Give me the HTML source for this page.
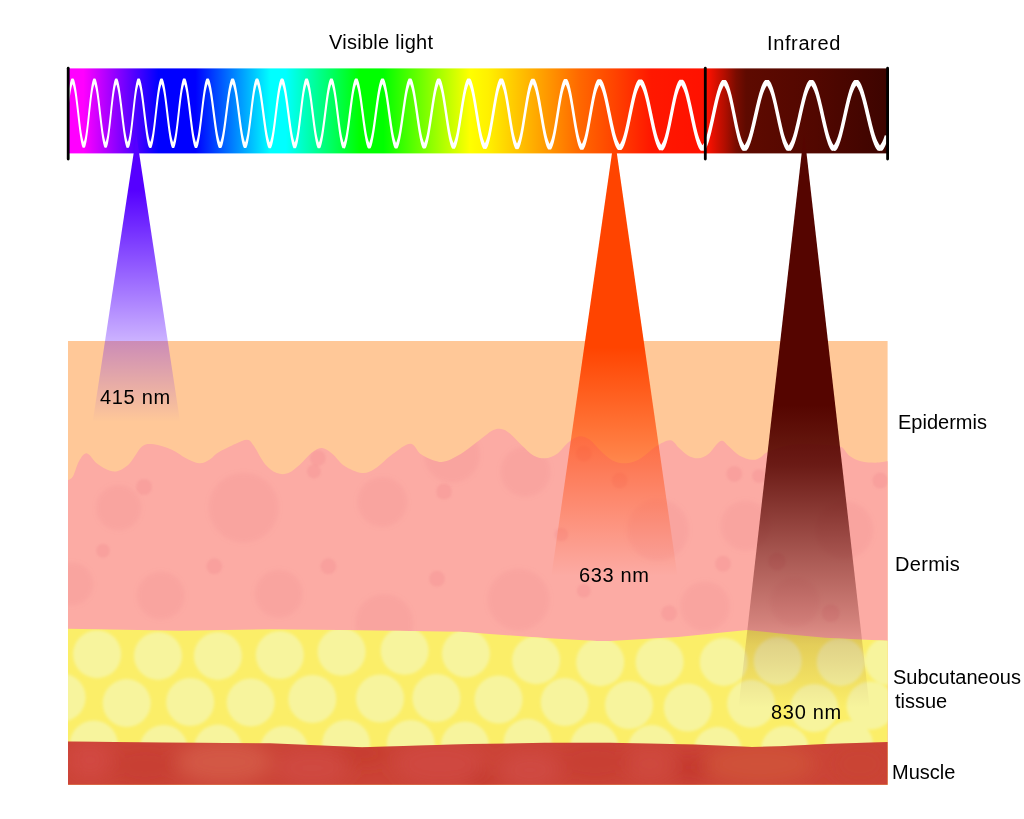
<!DOCTYPE html>
<html><head><meta charset="utf-8"><title>Light penetration</title>
<style>
html,body{margin:0;padding:0;background:#fff;}
body{width:1024px;height:819px;overflow:hidden;position:relative;font-family:"Liberation Sans",sans-serif;}
svg{position:absolute;left:0;top:0;}
.t{position:absolute;font-size:20px;line-height:24px;color:#000;white-space:nowrap;will-change:transform;}
</style></head><body>
<svg width="1024" height="819" viewBox="0 0 1024 819">
<defs>
<linearGradient id="spec" gradientUnits="userSpaceOnUse" x1="68" y1="0" x2="705" y2="0">
<stop offset="0" stop-color="#ff00ff"/>
<stop offset="0.024" stop-color="#ff00ff"/>
<stop offset="0.142" stop-color="#0000ff"/>
<stop offset="0.200" stop-color="#0000ff"/>
<stop offset="0.318" stop-color="#00ffff"/>
<stop offset="0.342" stop-color="#00ffff"/>
<stop offset="0.458" stop-color="#00ff00"/>
<stop offset="0.495" stop-color="#00ff00"/>
<stop offset="0.631" stop-color="#ffff00"/>
<stop offset="0.66" stop-color="#fff000"/>
<stop offset="0.803" stop-color="#ff6800"/>
<stop offset="0.857" stop-color="#ff4400"/>
<stop offset="0.915" stop-color="#ff1800"/>
<stop offset="1" stop-color="#ff1100"/>
</linearGradient>
<linearGradient id="ir" gradientUnits="userSpaceOnUse" x1="705" y1="0" x2="888" y2="0">
<stop offset="0" stop-color="#ff1100"/>
<stop offset="0.03" stop-color="#f01000"/>
<stop offset="0.11" stop-color="#b00e00"/>
<stop offset="0.17" stop-color="#7a0c00"/>
<stop offset="0.225" stop-color="#5e0a00"/>
<stop offset="0.6" stop-color="#520700"/>
<stop offset="1" stop-color="#3d0400"/>
</linearGradient>
<linearGradient id="gv" gradientUnits="userSpaceOnUse" x1="0" y1="135" x2="0" y2="422">
<stop offset="0" stop-color="#5500ff" stop-opacity="1"/>
<stop offset="0.19" stop-color="#5500ff" stop-opacity="1"/>
<stop offset="0.72" stop-color="#5500ff" stop-opacity="0.30"/>
<stop offset="1" stop-color="#5500ff" stop-opacity="0"/>
</linearGradient>
<linearGradient id="gr" gradientUnits="userSpaceOnUse" x1="0" y1="136" x2="0" y2="576">
<stop offset="0" stop-color="#ff4400" stop-opacity="1"/>
<stop offset="0.48" stop-color="#ff4400" stop-opacity="1"/>
<stop offset="1" stop-color="#ff4400" stop-opacity="0"/>
</linearGradient>
<linearGradient id="gi" gradientUnits="userSpaceOnUse" x1="0" y1="100" x2="0" y2="800">
<stop offset="0.0000" stop-color="#550500" stop-opacity="1"/>
<stop offset="0.4357" stop-color="#550500" stop-opacity="1"/>
<stop offset="0.5214" stop-color="#550500" stop-opacity="0.87"/>
<stop offset="0.6443" stop-color="#550500" stop-opacity="0.52"/>
<stop offset="0.7414" stop-color="#550500" stop-opacity="0.26"/>
<stop offset="0.7786" stop-color="#550500" stop-opacity="0.14"/>
<stop offset="0.8686" stop-color="#550500" stop-opacity="0"/>
</linearGradient>
<radialGradient id="rg"><stop offset="0" stop-color="#ee8288" stop-opacity="0.19"/><stop offset="0.85" stop-color="#ee8288" stop-opacity="0.16"/><stop offset="1" stop-color="#ee8288" stop-opacity="0.08"/></radialGradient>
<filter id="b1" x="-5%" y="-5%" width="110%" height="110%"><feGaussianBlur stdDeviation="1.2"/></filter>
<filter id="b4" x="-5%" y="-5%" width="110%" height="110%"><feGaussianBlur stdDeviation="1.4"/></filter>
<filter id="b2" x="-5%" y="-5%" width="110%" height="110%"><feGaussianBlur stdDeviation="2"/></filter>
<clipPath id="cm"><path d="M68.0,741.6 L162.0,742.6 L270.0,743.3 L362.0,747.2 L470.0,744.1 L545.0,742.8 L610.0,742.8 L695.0,744.5 L752.0,746.9 L780.0,746.3 L825.0,744.0 L887.6,742.0 L887.6,784.7 L68.0,784.7 Z"/></clipPath>
<filter id="b3" x="-20%" y="-50%" width="140%" height="200%"><feGaussianBlur stdDeviation="9"/></filter>
<clipPath id="cd"><path d="M68.0,480.3 C68.9,479.6 71.4,479.2 73.2,476.0 C75.0,472.8 76.7,465.1 79.0,461.3 C81.3,457.5 83.8,452.9 87.0,453.4 C90.2,453.9 93.5,461.2 98.0,464.2 C102.5,467.2 109.0,471.5 114.2,471.5 C119.4,471.5 124.3,468.3 128.9,464.2 C133.5,460.1 137.8,449.9 142.0,446.6 C146.2,443.3 148.9,443.8 153.8,444.3 C158.7,444.8 165.9,447.3 171.3,449.6 C176.7,451.9 181.3,456.0 186.0,458.3 C190.7,460.6 195.3,463.1 199.2,463.3 C203.1,463.6 206.2,461.6 209.4,459.8 C212.6,458.0 213.8,455.2 218.2,452.5 C222.6,449.8 230.9,445.8 235.8,443.7 C240.7,441.6 244.6,439.6 247.5,439.9 C250.4,440.1 250.5,441.1 253.4,445.2 C256.3,449.2 261.2,459.6 265.1,464.2 C269.0,468.8 272.9,471.5 276.8,473.0 C280.7,474.5 284.6,474.5 288.5,473.0 C292.4,471.5 296.4,467.6 300.3,464.2 C304.2,460.8 308.4,455.2 312.0,452.5 C315.6,449.8 318.8,447.9 322.2,448.1 C325.6,448.4 328.8,451.1 332.5,454.0 C336.2,456.9 339.3,462.5 344.2,465.7 C349.1,468.9 356.8,472.5 362.0,473.0 C367.2,473.5 370.1,471.8 375.2,468.6 C380.3,465.4 386.8,458.1 392.7,454.0 C398.6,449.9 405.6,443.7 410.3,443.7 C415.0,443.7 416.7,451.2 420.6,454.0 C424.5,456.8 429.7,459.2 433.8,460.4 C437.9,461.6 440.6,462.6 445.5,461.3 C450.4,460.0 457.1,456.2 463.0,452.5 C468.9,448.8 475.7,443.0 480.6,439.3 C485.5,435.6 489.0,432.2 492.4,430.5 C495.8,428.8 498.2,428.5 501.1,429.0 C504.0,429.5 506.5,430.7 509.9,433.4 C513.3,436.1 517.8,441.5 521.7,445.2 C525.6,448.9 529.5,453.2 533.4,455.4 C537.3,457.6 541.2,458.5 545.1,458.3 C549.0,458.1 552.9,456.7 556.8,454.0 C560.7,451.3 564.8,445.1 568.5,442.2 C572.2,439.3 575.4,436.9 578.8,436.4 C582.2,435.9 585.3,436.9 589.0,439.3 C592.7,441.7 596.9,447.5 600.8,451.0 C604.7,454.5 608.2,458.3 612.5,460.4 C616.8,462.4 621.6,463.6 626.4,463.3 C631.1,463.0 636.1,461.1 641.0,458.3 C645.9,455.5 650.8,449.6 655.7,446.6 C660.6,443.6 666.4,439.9 670.3,440.2 C674.2,440.4 676.2,445.6 679.1,448.1 C682.0,450.6 684.7,453.7 687.9,455.4 C691.1,457.1 694.8,458.5 698.2,458.3 C701.6,458.1 705.2,456.4 708.4,454.0 C711.6,451.6 714.9,445.9 717.2,443.7 C719.6,441.5 720.5,440.3 722.5,440.8 C724.5,441.3 726.1,444.2 728.9,446.6 C731.7,449.0 735.3,453.2 739.2,455.4 C743.1,457.6 748.8,459.6 752.4,459.8 C756.0,460.1 758.7,458.1 761.1,456.9 C763.5,455.7 763.0,454.3 767.0,452.5 C771.0,450.7 779.2,447.4 785.0,446.0 C790.8,444.6 796.2,444.2 802.0,444.0 C807.8,443.8 813.6,444.1 820.0,444.5 C826.4,444.9 835.5,444.8 840.3,446.6 C845.1,448.4 845.6,452.9 849.0,455.4 C852.4,457.8 856.4,460.1 860.8,461.3 C865.2,462.5 870.9,462.7 875.4,462.7 C879.9,462.7 885.6,461.5 887.6,461.3 L887.6,784.7 L68.0,784.7 Z"/></clipPath>
<clipPath id="cy"><path d="M68.0,628.8 L180.0,630.7 L270.0,629.2 L360.0,630.3 L460.0,631.7 L545.0,638.0 L597.0,640.9 L610.0,640.9 L678.0,637.1 L747.0,629.9 L780.0,633.5 L825.0,637.8 L887.6,640.8 L887.6,784.7 L68.0,784.7 Z"/></clipPath>
</defs>
<!-- skin -->
<rect x="68.0" y="341.0" width="819.6" height="443.70000000000005" fill="#ffc898"/>
<path d="M68.0,480.3 C68.9,479.6 71.4,479.2 73.2,476.0 C75.0,472.8 76.7,465.1 79.0,461.3 C81.3,457.5 83.8,452.9 87.0,453.4 C90.2,453.9 93.5,461.2 98.0,464.2 C102.5,467.2 109.0,471.5 114.2,471.5 C119.4,471.5 124.3,468.3 128.9,464.2 C133.5,460.1 137.8,449.9 142.0,446.6 C146.2,443.3 148.9,443.8 153.8,444.3 C158.7,444.8 165.9,447.3 171.3,449.6 C176.7,451.9 181.3,456.0 186.0,458.3 C190.7,460.6 195.3,463.1 199.2,463.3 C203.1,463.6 206.2,461.6 209.4,459.8 C212.6,458.0 213.8,455.2 218.2,452.5 C222.6,449.8 230.9,445.8 235.8,443.7 C240.7,441.6 244.6,439.6 247.5,439.9 C250.4,440.1 250.5,441.1 253.4,445.2 C256.3,449.2 261.2,459.6 265.1,464.2 C269.0,468.8 272.9,471.5 276.8,473.0 C280.7,474.5 284.6,474.5 288.5,473.0 C292.4,471.5 296.4,467.6 300.3,464.2 C304.2,460.8 308.4,455.2 312.0,452.5 C315.6,449.8 318.8,447.9 322.2,448.1 C325.6,448.4 328.8,451.1 332.5,454.0 C336.2,456.9 339.3,462.5 344.2,465.7 C349.1,468.9 356.8,472.5 362.0,473.0 C367.2,473.5 370.1,471.8 375.2,468.6 C380.3,465.4 386.8,458.1 392.7,454.0 C398.6,449.9 405.6,443.7 410.3,443.7 C415.0,443.7 416.7,451.2 420.6,454.0 C424.5,456.8 429.7,459.2 433.8,460.4 C437.9,461.6 440.6,462.6 445.5,461.3 C450.4,460.0 457.1,456.2 463.0,452.5 C468.9,448.8 475.7,443.0 480.6,439.3 C485.5,435.6 489.0,432.2 492.4,430.5 C495.8,428.8 498.2,428.5 501.1,429.0 C504.0,429.5 506.5,430.7 509.9,433.4 C513.3,436.1 517.8,441.5 521.7,445.2 C525.6,448.9 529.5,453.2 533.4,455.4 C537.3,457.6 541.2,458.5 545.1,458.3 C549.0,458.1 552.9,456.7 556.8,454.0 C560.7,451.3 564.8,445.1 568.5,442.2 C572.2,439.3 575.4,436.9 578.8,436.4 C582.2,435.9 585.3,436.9 589.0,439.3 C592.7,441.7 596.9,447.5 600.8,451.0 C604.7,454.5 608.2,458.3 612.5,460.4 C616.8,462.4 621.6,463.6 626.4,463.3 C631.1,463.0 636.1,461.1 641.0,458.3 C645.9,455.5 650.8,449.6 655.7,446.6 C660.6,443.6 666.4,439.9 670.3,440.2 C674.2,440.4 676.2,445.6 679.1,448.1 C682.0,450.6 684.7,453.7 687.9,455.4 C691.1,457.1 694.8,458.5 698.2,458.3 C701.6,458.1 705.2,456.4 708.4,454.0 C711.6,451.6 714.9,445.9 717.2,443.7 C719.6,441.5 720.5,440.3 722.5,440.8 C724.5,441.3 726.1,444.2 728.9,446.6 C731.7,449.0 735.3,453.2 739.2,455.4 C743.1,457.6 748.8,459.6 752.4,459.8 C756.0,460.1 758.7,458.1 761.1,456.9 C763.5,455.7 763.0,454.3 767.0,452.5 C771.0,450.7 779.2,447.4 785.0,446.0 C790.8,444.6 796.2,444.2 802.0,444.0 C807.8,443.8 813.6,444.1 820.0,444.5 C826.4,444.9 835.5,444.8 840.3,446.6 C845.1,448.4 845.6,452.9 849.0,455.4 C852.4,457.8 856.4,460.1 860.8,461.3 C865.2,462.5 870.9,462.7 875.4,462.7 C879.9,462.7 885.6,461.5 887.6,461.3 L887.6,784.7 L68.0,784.7 Z" fill="#fcaba4"/>
<g clip-path="url(#cd)"><g filter="url(#b2)"><circle cx="118.6" cy="507.7" r="22.7" fill="rgba(238,130,136,0.16)"/><circle cx="243.6" cy="507.7" r="35" fill="rgba(238,130,136,0.16)"/><circle cx="382.3" cy="501.9" r="25" fill="rgba(238,130,136,0.16)"/><circle cx="71.7" cy="583.9" r="21.5" fill="rgba(238,130,136,0.16)"/><circle cx="160.8" cy="595.6" r="24" fill="rgba(238,130,136,0.16)"/><circle cx="278.8" cy="593.7" r="24" fill="rgba(238,130,136,0.16)"/><circle cx="384.2" cy="623" r="29" fill="rgba(238,130,136,0.16)"/><circle cx="452" cy="455" r="28" fill="rgba(238,130,136,0.16)"/><circle cx="525.4" cy="471.7" r="25" fill="rgba(238,130,136,0.16)"/><circle cx="657.9" cy="530" r="31" fill="rgba(238,130,136,0.16)"/><circle cx="745.5" cy="525.6" r="25" fill="rgba(238,130,136,0.16)"/><circle cx="844.3" cy="530" r="29" fill="rgba(238,130,136,0.16)"/><circle cx="518.6" cy="599.7" r="31" fill="rgba(238,130,136,0.16)"/><circle cx="705" cy="606.4" r="25" fill="rgba(238,130,136,0.16)"/><circle cx="794.9" cy="602" r="25" fill="rgba(238,130,136,0.16)"/></g><g filter="url(#b1)"><circle cx="144" cy="487" r="8" fill="rgba(238,125,130,0.22)"/><circle cx="317.8" cy="458.1" r="8" fill="rgba(238,125,130,0.22)"/><circle cx="313.9" cy="471.4" r="7" fill="rgba(238,125,130,0.22)"/><circle cx="103" cy="550.7" r="7" fill="rgba(238,125,130,0.22)"/><circle cx="214.3" cy="566.3" r="8" fill="rgba(238,125,130,0.22)"/><circle cx="328.4" cy="566.3" r="8" fill="rgba(238,125,130,0.22)"/><circle cx="444" cy="491.5" r="8" fill="rgba(238,125,130,0.22)"/><circle cx="437" cy="578.8" r="8" fill="rgba(238,125,130,0.22)"/><circle cx="583.8" cy="453.7" r="8" fill="rgba(238,125,130,0.22)"/><circle cx="619.7" cy="480.6" r="8" fill="rgba(238,125,130,0.22)"/><circle cx="561.3" cy="534.6" r="7" fill="rgba(238,125,130,0.22)"/><circle cx="583.8" cy="590.7" r="7" fill="rgba(238,125,130,0.22)"/><circle cx="669.1" cy="613.2" r="8" fill="rgba(238,125,130,0.22)"/><circle cx="723" cy="563.8" r="8" fill="rgba(238,125,130,0.22)"/><circle cx="734.3" cy="473.9" r="8" fill="rgba(238,125,130,0.22)"/><circle cx="759" cy="476" r="7" fill="rgba(238,125,130,0.22)"/><circle cx="777" cy="561.5" r="9" fill="rgba(238,125,130,0.22)"/><circle cx="830.8" cy="613.2" r="9" fill="rgba(238,125,130,0.22)"/><circle cx="880.3" cy="480.6" r="8" fill="rgba(238,125,130,0.22)"/></g></g>
<path d="M68.0,628.8 L180.0,630.7 L270.0,629.2 L360.0,630.3 L460.0,631.7 L545.0,638.0 L597.0,640.9 L610.0,640.9 L678.0,637.1 L747.0,629.9 L780.0,633.5 L825.0,637.8 L887.6,640.8 L887.6,784.7 L68.0,784.7 Z" fill="#fbee68"/>
<g clip-path="url(#cy)"><g filter="url(#b4)"><circle cx="97.1" cy="654.2" r="24" fill="#f7f49d"/><circle cx="158" cy="655.9" r="24" fill="#f7f49d"/><circle cx="217.9" cy="655.9" r="24" fill="#f7f49d"/><circle cx="279.8" cy="655" r="24" fill="#f7f49d"/><circle cx="341.6" cy="651.8" r="24" fill="#f7f49d"/><circle cx="404.6" cy="650.8" r="24" fill="#f7f49d"/><circle cx="465.9" cy="653.6" r="24" fill="#f7f49d"/><circle cx="536.1" cy="660.2" r="24" fill="#f7f49d"/><circle cx="600.2" cy="662.2" r="24" fill="#f7f49d"/><circle cx="659.6" cy="661.9" r="24" fill="#f7f49d"/><circle cx="723.7" cy="661.9" r="24" fill="#f7f49d"/><circle cx="777.7" cy="661" r="24" fill="#f7f49d"/><circle cx="840.7" cy="661.9" r="24" fill="#f7f49d"/><circle cx="889" cy="661" r="24" fill="#f7f49d"/><circle cx="61.6" cy="697.5" r="24" fill="#f7f49d"/><circle cx="126.7" cy="703.1" r="24" fill="#f7f49d"/><circle cx="190.2" cy="702" r="24" fill="#f7f49d"/><circle cx="250.7" cy="702.5" r="24" fill="#f7f49d"/><circle cx="312.3" cy="699" r="24" fill="#f7f49d"/><circle cx="380" cy="698.5" r="24" fill="#f7f49d"/><circle cx="436.4" cy="698" r="24" fill="#f7f49d"/><circle cx="498.5" cy="699.5" r="24" fill="#f7f49d"/><circle cx="564.7" cy="702.1" r="24" fill="#f7f49d"/><circle cx="629" cy="705" r="24" fill="#f7f49d"/><circle cx="687.8" cy="707.5" r="24" fill="#f7f49d"/><circle cx="751.1" cy="703.8" r="24" fill="#f7f49d"/><circle cx="814.2" cy="708" r="24" fill="#f7f49d"/><circle cx="870.6" cy="705.5" r="24" fill="#f7f49d"/><circle cx="93.8" cy="744.5" r="24" fill="#f7f49d"/><circle cx="163.6" cy="749" r="24" fill="#f7f49d"/><circle cx="217.9" cy="748.6" r="24" fill="#f7f49d"/><circle cx="284" cy="750" r="24" fill="#f7f49d"/><circle cx="346.1" cy="744" r="24" fill="#f7f49d"/><circle cx="410.7" cy="744" r="24" fill="#f7f49d"/><circle cx="465" cy="745.4" r="24" fill="#f7f49d"/><circle cx="527.6" cy="742.8" r="24" fill="#f7f49d"/><circle cx="594.3" cy="746.6" r="24" fill="#f7f49d"/><circle cx="651.9" cy="749.1" r="24" fill="#f7f49d"/><circle cx="717.7" cy="750.8" r="24" fill="#f7f49d"/><circle cx="785" cy="750" r="24" fill="#f7f49d"/><circle cx="849" cy="744.8" r="24" fill="#f7f49d"/></g></g>
<path d="M68.0,741.6 L162.0,742.6 L270.0,743.3 L362.0,747.2 L470.0,744.1 L545.0,742.8 L610.0,742.8 L695.0,744.5 L752.0,746.9 L780.0,746.3 L825.0,744.0 L887.6,742.0 L887.6,784.7 L68.0,784.7 Z" fill="#cb4336"/>
<g clip-path="url(#cm)" filter="url(#b3)">
<ellipse cx="224" cy="762" rx="48" ry="22" fill="#d8654f" fill-opacity="0.6"/>
<ellipse cx="760" cy="764" rx="55" ry="22" fill="#d35c3c" fill-opacity="0.55"/>
<ellipse cx="860" cy="764" rx="30" ry="22" fill="#c9472f" fill-opacity="0.4"/>
<ellipse cx="90" cy="760" rx="22" ry="20" fill="#d54c4a" fill-opacity="0.6"/>
<ellipse cx="312" cy="768" rx="36" ry="18" fill="#d3504a" fill-opacity="0.5"/>
<ellipse cx="440" cy="764" rx="45" ry="22" fill="#d34c48" fill-opacity="0.55"/>
<ellipse cx="530" cy="770" rx="30" ry="18" fill="#d44e4a" fill-opacity="0.55"/>
<ellipse cx="650" cy="764" rx="24" ry="20" fill="#d24e44" fill-opacity="0.45"/>
<ellipse cx="145" cy="766" rx="34" ry="20" fill="#c23428" fill-opacity="0.32"/>
<ellipse cx="363" cy="753" rx="26" ry="12" fill="#c03226" fill-opacity="0.45"/>
<ellipse cx="482" cy="780" rx="14" ry="9" fill="#bf3026" fill-opacity="0.6"/>
<ellipse cx="595" cy="762" rx="36" ry="20" fill="#c23428" fill-opacity="0.32"/>
<ellipse cx="691" cy="768" rx="16" ry="14" fill="#c03227" fill-opacity="0.55"/>
</g>
<!-- spectrum -->
<rect x="68" y="68.4" width="637.5" height="85" fill="url(#spec)"/>
<rect x="705" y="68.4" width="182.8" height="85" fill="url(#ir)"/>
<!-- beams -->
<polygon points="136.4,135.3 180.1,422 92.7,422" fill="url(#gv)"/>
<polygon points="614.4,136.3 678.7,585 550.1,585" fill="url(#gr)"/>
<polygon points="804.1,132 870.2,712 738.0,712" fill="url(#gi)"/>
<path d="M68.0,95.31 L68.4,92.39 L68.8,89.67 L69.2,87.18 L69.6,84.96 L70.0,83.02 L70.4,81.38 L70.8,80.05 L71.2,79.04 L71.6,78.44 L72.0,78.48 L72.4,78.52 L72.8,78.51 L73.2,78.47 L73.6,78.63 L74.0,79.43 L74.4,80.54 L74.8,81.97 L75.2,83.69 L75.6,85.71 L76.0,87.99 L76.4,90.53 L76.8,93.30 L77.2,96.27 L77.6,99.42 L78.0,102.71 L78.4,106.11 L78.8,109.58 L79.2,113.09 L79.6,116.59 L80.0,120.06 L80.4,123.43 L80.8,126.66 L81.2,129.67 L81.6,132.40 L82.0,134.80 L82.4,136.88 L82.8,138.67 L83.2,140.24 L83.6,141.66 L84.0,141.29 L84.4,139.81 L84.8,138.15 L85.2,136.24 L85.6,133.99 L86.0,131.37 L86.4,128.40 L86.8,125.14 L87.2,121.66 L87.6,118.04 L88.0,114.33 L88.4,110.60 L88.8,106.88 L89.2,103.23 L89.6,99.70 L90.0,96.31 L90.4,93.13 L90.8,90.18 L91.2,87.49 L91.6,85.10 L92.0,83.04 L92.4,81.31 L92.8,79.94 L93.2,78.93 L93.6,78.52 L94.0,78.46 L94.4,78.40 L94.8,78.45 L95.2,78.50 L95.6,78.88 L96.0,79.84 L96.4,81.13 L96.8,82.73 L97.2,84.64 L97.6,86.82 L98.0,89.27 L98.4,91.95 L98.8,94.84 L99.2,97.90 L99.6,101.12 L100.0,104.45 L100.4,107.86 L100.8,111.33 L101.2,114.80 L101.6,118.26 L102.0,121.65 L102.4,124.92 L102.8,128.03 L103.2,130.89 L103.6,133.47 L104.0,135.72 L104.4,137.66 L104.8,139.35 L105.2,140.85 L105.6,142.20 L106.0,140.79 L106.4,139.25 L106.8,137.50 L107.2,135.45 L107.6,133.05 L108.0,130.27 L108.4,127.16 L108.8,123.79 L109.2,120.22 L109.6,116.54 L110.0,112.80 L110.4,109.05 L110.8,105.35 L111.2,101.73 L111.6,98.25 L112.0,94.94 L112.4,91.85 L112.8,89.00 L113.2,86.45 L113.6,84.20 L114.0,82.28 L114.4,80.71 L114.8,79.49 L115.2,78.63 L115.6,78.51 L116.0,78.50 L116.4,78.45 L116.8,78.40 L117.2,78.43 L117.6,79.15 L118.0,80.20 L118.4,81.55 L118.8,83.20 L119.2,85.14 L119.6,87.33 L120.0,89.76 L120.4,92.41 L120.8,95.24 L121.2,98.24 L121.6,101.38 L122.0,104.62 L122.4,107.93 L122.8,111.30 L123.2,114.67 L123.6,118.02 L124.0,121.32 L124.4,124.52 L124.8,127.56 L125.2,130.40 L125.6,132.96 L126.0,135.23 L126.4,137.20 L126.8,138.91 L127.2,140.43 L127.6,141.81 L128.0,141.42 L128.4,139.97 L128.8,138.35 L129.2,136.49 L129.6,134.30 L130.0,131.75 L130.4,128.87 L130.8,125.68 L131.2,122.28 L131.6,118.72 L132.0,115.08 L132.4,111.39 L132.8,107.72 L133.2,104.11 L133.6,100.59 L134.0,97.21 L134.4,94.02 L134.8,91.05 L135.2,88.32 L135.6,85.88 L136.0,83.74 L136.4,81.93 L136.8,80.45 L137.2,79.31 L137.6,78.52 L138.0,78.47 L138.4,78.42 L138.8,78.42 L139.2,78.46 L139.6,78.49 L140.0,79.23 L140.4,80.29 L140.8,81.64 L141.2,83.30 L141.6,85.22 L142.0,87.40 L142.4,89.82 L142.8,92.44 L143.2,95.26 L143.6,98.23 L144.0,101.34 L144.4,104.55 L144.8,107.84 L145.2,111.17 L145.6,114.51 L146.0,117.83 L146.4,121.10 L146.8,124.27 L147.2,127.29 L147.6,130.12 L148.0,132.68 L148.4,134.96 L148.8,136.94 L149.2,138.66 L149.6,140.18 L150.0,141.55 L150.4,141.85 L150.8,140.49 L151.2,138.98 L151.6,137.26 L152.0,135.27 L152.4,132.96 L152.8,130.32 L153.2,127.39 L153.6,124.23 L154.0,120.89 L154.4,117.44 L154.8,113.93 L155.2,110.40 L155.6,106.89 L156.0,103.44 L156.4,100.09 L156.8,96.87 L157.2,93.82 L157.6,90.97 L158.0,88.35 L158.4,85.99 L158.8,83.90 L159.2,82.12 L159.6,80.64 L160.0,79.48 L160.4,78.65 L160.8,78.46 L161.2,78.50 L161.6,78.52 L162.0,78.49 L162.4,78.46 L162.8,78.99 L163.2,79.95 L163.6,81.22 L164.0,82.78 L164.4,84.62 L164.8,86.72 L165.2,89.08 L165.6,91.65 L166.0,94.43 L166.4,97.38 L166.8,100.47 L167.2,103.68 L167.6,106.98 L168.0,110.33 L168.4,113.71 L168.8,117.08 L169.2,120.40 L169.6,123.64 L170.0,126.73 L170.4,129.63 L170.8,132.28 L171.2,134.63 L171.6,136.69 L172.0,138.46 L172.4,140.02 L172.8,141.43 L173.2,142.06 L173.6,140.70 L174.0,139.19 L174.4,137.48 L174.8,135.50 L175.2,133.18 L175.6,130.54 L176.0,127.58 L176.4,124.39 L176.8,121.01 L177.2,117.51 L177.6,113.96 L178.0,110.38 L178.4,106.83 L178.8,103.33 L179.2,99.95 L179.6,96.70 L180.0,93.63 L180.4,90.76 L180.8,88.14 L181.2,85.78 L181.6,83.71 L182.0,81.94 L182.4,80.49 L182.8,79.37 L183.2,78.57 L183.6,78.53 L184.0,78.49 L184.4,78.45 L184.8,78.42 L185.2,78.40 L185.6,79.09 L186.0,80.08 L186.4,81.37 L186.8,82.95 L187.2,84.81 L187.6,86.93 L188.0,89.29 L188.4,91.86 L188.8,94.62 L189.2,97.56 L189.6,100.63 L190.0,103.81 L190.4,107.07 L190.8,110.39 L191.2,113.72 L191.6,117.04 L192.0,120.32 L192.4,123.51 L192.8,126.56 L193.2,129.43 L193.6,132.06 L194.0,134.40 L194.4,136.45 L194.8,138.23 L195.2,139.79 L195.6,141.19 L196.0,142.46 L196.4,141.16 L196.8,139.75 L197.2,138.16 L197.6,136.34 L198.0,134.22 L198.4,131.79 L198.8,129.06 L199.2,126.07 L199.6,122.89 L200.0,119.57 L200.4,116.17 L200.8,112.73 L201.2,109.29 L201.6,105.89 L202.0,102.55 L202.4,99.32 L202.8,96.23 L203.2,93.31 L203.6,90.59 L204.0,88.09 L204.4,85.83 L204.8,83.84 L205.2,82.12 L205.6,80.70 L206.0,79.57 L206.4,78.74 L206.8,78.43 L207.2,78.41 L207.6,78.40 L208.0,78.41 L208.4,78.41 L208.8,78.70 L209.2,79.48 L209.6,80.54 L210.0,81.87 L210.4,83.44 L210.8,85.26 L211.2,87.31 L211.6,89.56 L212.0,92.00 L212.4,94.61 L212.8,97.37 L213.2,100.25 L213.6,103.23 L214.0,106.28 L214.4,109.39 L214.8,112.51 L215.2,115.64 L215.6,118.74 L216.0,121.77 L216.4,124.72 L216.8,127.53 L217.2,130.16 L217.6,132.56 L218.0,134.72 L218.4,136.62 L218.8,138.28 L219.2,139.74 L219.6,141.06 L220.0,142.27 L220.4,141.67 L220.8,140.40 L221.2,139.01 L221.6,137.44 L222.0,135.65 L222.4,133.60 L222.8,131.28 L223.2,128.72 L223.6,125.95 L224.0,123.03 L224.4,119.99 L224.8,116.87 L225.2,113.72 L225.6,110.55 L226.0,107.41 L226.4,104.31 L226.8,101.28 L227.2,98.34 L227.6,95.53 L228.0,92.86 L228.4,90.36 L228.8,88.05 L229.2,85.94 L229.6,84.06 L230.0,82.41 L230.4,81.01 L230.8,79.87 L231.2,78.99 L231.6,78.41 L232.0,78.41 L232.4,78.40 L232.8,78.40 L233.2,78.41 L233.6,78.42 L234.0,78.99 L234.4,79.86 L234.8,80.99 L235.2,82.37 L235.6,84.00 L236.0,85.87 L236.4,87.95 L236.8,90.23 L237.2,92.70 L237.6,95.34 L238.0,98.12 L238.4,101.03 L238.8,104.04 L239.2,107.12 L239.6,110.25 L240.0,113.40 L240.4,116.55 L240.8,119.67 L241.2,122.72 L241.6,125.67 L242.0,128.47 L242.4,131.07 L242.8,133.44 L243.2,135.54 L243.6,137.37 L244.0,138.98 L244.4,140.41 L244.8,141.71 L245.2,142.30 L245.6,141.03 L246.0,139.64 L246.4,138.08 L246.8,136.29 L247.2,134.22 L247.6,131.85 L248.0,129.20 L248.4,126.30 L248.8,123.20 L249.2,119.98 L249.6,116.66 L250.0,113.30 L250.4,109.93 L250.8,106.59 L251.2,103.30 L251.6,100.11 L252.0,97.04 L252.4,94.13 L252.8,91.40 L253.2,88.87 L253.6,86.57 L254.0,84.52 L254.4,82.74 L254.8,81.23 L255.2,80.00 L255.6,79.06 L256.0,78.42 L256.4,78.41 L256.8,78.40 L257.2,78.40 L257.6,78.40 L258.0,78.41 L258.4,79.00 L258.8,79.88 L259.2,81.01 L259.6,82.40 L260.0,84.02 L260.4,85.86 L260.8,87.92 L261.2,90.16 L261.6,92.59 L262.0,95.17 L262.4,97.88 L262.8,100.71 L263.2,103.63 L263.6,106.63 L264.0,109.67 L264.4,112.73 L264.8,115.80 L265.2,118.83 L265.6,121.82 L266.0,124.72 L266.4,127.49 L266.8,130.10 L267.2,132.49 L267.6,134.65 L268.0,136.56 L268.4,138.23 L268.8,139.70 L269.2,141.03 L269.6,142.26 L270.0,141.93 L270.4,140.66 L270.8,139.27 L271.2,137.69 L271.6,135.89 L272.0,133.82 L272.4,131.46 L272.8,128.85 L273.2,126.01 L273.6,123.00 L274.0,119.87 L274.4,116.66 L274.8,113.40 L275.2,110.14 L275.6,106.90 L276.0,103.72 L276.4,100.61 L276.8,97.61 L277.2,94.76 L277.6,92.06 L278.0,89.55 L278.4,87.25 L278.8,85.18 L279.2,83.35 L279.6,81.78 L280.0,80.47 L280.4,79.43 L280.8,78.67 L281.2,78.41 L281.6,78.40 L282.0,78.40 L282.4,78.41 L282.8,78.42 L283.2,78.64 L283.6,79.37 L284.0,80.35 L284.4,81.58 L284.8,83.06 L285.2,84.76 L285.6,86.68 L286.0,88.80 L286.4,91.11 L286.8,93.58 L287.2,96.21 L287.6,98.96 L288.0,101.83 L288.4,104.78 L288.8,107.79 L289.2,110.85 L289.6,113.92 L290.0,116.99 L290.4,120.03 L290.8,123.00 L291.2,125.88 L291.6,128.61 L292.0,131.16 L292.4,133.48 L292.8,135.56 L293.2,137.38 L293.6,138.98 L294.0,140.40 L294.4,141.70 L294.8,142.57 L295.2,141.32 L295.6,139.96 L296.0,138.43 L296.4,136.69 L296.8,134.66 L297.2,132.34 L297.6,129.73 L298.0,126.87 L298.4,123.80 L298.8,120.59 L299.2,117.28 L299.6,113.91 L300.0,110.53 L300.4,107.16 L300.8,103.84 L301.2,100.62 L301.6,97.50 L302.0,94.54 L302.4,91.76 L302.8,89.18 L303.2,86.83 L303.6,84.73 L304.0,82.89 L304.4,81.34 L304.8,80.07 L305.2,79.10 L305.6,78.43 L306.0,78.42 L306.4,78.40 L306.8,78.40 L307.2,78.41 L307.6,78.42 L308.0,79.07 L308.4,80.00 L308.8,81.21 L309.2,82.69 L309.6,84.43 L310.0,86.41 L310.4,88.62 L310.8,91.04 L311.2,93.64 L311.6,96.41 L312.0,99.31 L312.4,102.34 L312.8,105.45 L313.2,108.62 L313.6,111.83 L314.0,115.04 L314.4,118.22 L314.8,121.35 L315.2,124.39 L315.6,127.29 L316.0,130.00 L316.4,132.49 L316.8,134.72 L317.2,136.67 L317.6,138.38 L318.0,139.88 L318.4,141.22 L318.8,142.45 L319.2,141.97 L319.6,140.70 L320.0,139.30 L320.4,137.73 L320.8,135.94 L321.2,133.89 L321.6,131.57 L322.0,129.01 L322.4,126.24 L322.8,123.31 L323.2,120.26 L323.6,117.14 L324.0,113.98 L324.4,110.80 L324.8,107.64 L325.2,104.53 L325.6,101.48 L326.0,98.53 L326.4,95.70 L326.8,93.02 L327.2,90.50 L327.6,88.17 L328.0,86.04 L328.4,84.14 L328.8,82.47 L329.2,81.05 L329.6,79.90 L330.0,79.01 L330.4,78.41 L330.8,78.41 L331.2,78.40 L331.6,78.40 L332.0,78.40 L332.4,78.41 L332.8,79.02 L333.2,79.92 L333.6,81.08 L334.0,82.52 L334.4,84.21 L334.8,86.14 L335.2,88.30 L335.6,90.67 L336.0,93.23 L336.4,95.97 L336.8,98.85 L337.2,101.86 L337.6,104.96 L338.0,108.13 L338.4,111.34 L338.8,114.57 L339.2,117.78 L339.6,120.94 L340.0,124.01 L340.4,126.95 L340.8,129.72 L341.2,132.26 L341.6,134.54 L342.0,136.54 L342.4,138.29 L342.8,139.82 L343.2,141.19 L343.6,142.44 L344.0,142.08 L344.4,140.79 L344.8,139.39 L345.2,137.80 L345.6,135.99 L346.0,133.92 L346.4,131.58 L346.8,128.99 L347.2,126.19 L347.6,123.23 L348.0,120.16 L348.4,117.02 L348.8,113.84 L349.2,110.65 L349.6,107.48 L350.0,104.37 L350.4,101.32 L350.8,98.38 L351.2,95.57 L351.6,92.90 L352.0,90.40 L352.4,88.10 L352.8,86.00 L353.2,84.12 L353.6,82.47 L354.0,81.08 L354.4,79.93 L354.8,79.05 L355.2,78.43 L355.6,78.44 L356.0,78.45 L356.4,78.47 L356.8,78.49 L357.2,78.50 L357.6,78.86 L358.0,79.66 L358.4,80.72 L358.8,82.02 L359.2,83.56 L359.6,85.33 L360.0,87.32 L360.4,89.50 L360.8,91.86 L361.2,94.39 L361.6,97.06 L362.0,99.86 L362.4,102.75 L362.8,105.73 L363.2,108.75 L363.6,111.81 L364.0,114.87 L364.4,117.91 L364.8,120.91 L365.2,123.82 L365.6,126.62 L366.0,129.27 L366.4,131.72 L366.8,133.94 L367.2,135.92 L367.6,137.66 L368.0,139.18 L368.4,140.54 L368.8,141.78 L369.2,142.92 L369.6,141.84 L370.0,140.62 L370.4,139.28 L370.8,137.77 L371.2,136.06 L371.6,134.12 L372.0,131.94 L372.4,129.54 L372.8,126.95 L373.2,124.21 L373.6,121.36 L374.0,118.43 L374.4,115.45 L374.8,112.45 L375.2,109.46 L375.6,106.50 L376.0,103.59 L376.4,100.74 L376.8,97.99 L377.2,95.36 L377.6,92.85 L378.0,90.50 L378.4,88.31 L378.8,86.30 L379.2,84.49 L379.6,82.88 L380.0,81.49 L380.4,80.33 L380.8,79.39 L381.2,78.69 L381.6,78.45 L382.0,78.48 L382.4,78.52 L382.8,78.50 L383.2,78.46 L383.6,78.42 L384.0,79.00 L384.4,79.82 L384.8,80.86 L385.2,82.12 L385.6,83.60 L386.0,85.28 L386.4,87.16 L386.8,89.22 L387.2,91.45 L387.6,93.83 L388.0,96.35 L388.4,98.98 L388.8,101.72 L389.2,104.53 L389.6,107.40 L390.0,110.30 L390.4,113.23 L390.8,116.14 L391.2,119.03 L391.6,121.87 L392.0,124.63 L392.4,127.27 L392.8,129.77 L393.2,132.08 L393.6,134.18 L394.0,136.06 L394.4,137.72 L394.8,139.18 L395.2,140.49 L395.6,141.68 L396.0,142.78 L396.4,142.22 L396.8,141.07 L397.2,139.83 L397.6,138.46 L398.0,136.91 L398.4,135.16 L398.8,133.19 L399.2,131.00 L399.6,128.63 L400.0,126.09 L400.4,123.43 L400.8,120.68 L401.2,117.86 L401.6,115.01 L402.0,112.14 L402.4,109.28 L402.8,106.45 L403.2,103.66 L403.6,100.94 L404.0,98.30 L404.4,95.76 L404.8,93.34 L405.2,91.05 L405.6,88.92 L406.0,86.94 L406.4,85.14 L406.8,83.53 L407.2,82.11 L407.6,80.89 L408.0,79.88 L408.4,79.08 L408.8,78.49 L409.2,78.51 L409.6,78.45 L410.0,78.40 L410.4,78.45 L410.8,78.51 L411.2,78.49 L411.6,79.07 L412.0,79.86 L412.4,80.86 L412.8,82.06 L413.2,83.46 L413.6,85.05 L414.0,86.82 L414.4,88.76 L414.8,90.86 L415.2,93.10 L415.6,95.46 L416.0,97.95 L416.4,100.52 L416.8,103.18 L417.2,105.90 L417.6,108.67 L418.0,111.46 L418.4,114.25 L418.8,117.04 L419.2,119.80 L419.6,122.50 L420.0,125.12 L420.4,127.63 L420.8,130.01 L421.2,132.21 L421.6,134.22 L422.0,136.03 L422.4,137.63 L422.8,139.05 L423.2,140.32 L423.6,141.48 L424.0,142.56 L424.4,142.67 L424.8,141.60 L425.2,140.46 L425.6,139.21 L426.0,137.81 L426.4,136.24 L426.8,134.48 L427.2,132.51 L427.6,130.36 L428.0,128.03 L428.4,125.57 L428.8,123.00 L429.2,120.35 L429.6,117.65 L430.0,114.91 L430.4,112.17 L430.8,109.43 L431.2,106.71 L431.6,104.03 L432.0,101.42 L432.4,98.87 L432.8,96.41 L433.2,94.06 L433.6,91.83 L434.0,89.73 L434.4,87.77 L434.8,85.97 L435.2,84.34 L435.6,82.87 L436.0,81.59 L436.4,80.50 L436.8,79.60 L437.2,78.90 L437.6,78.41 L438.0,78.46 L438.4,78.53 L438.8,78.45 L439.2,78.42 L439.6,78.49 L440.0,78.49 L440.4,79.05 L440.8,79.80 L441.2,80.74 L441.6,81.87 L442.0,83.19 L442.4,84.68 L442.8,86.34 L443.2,88.16 L443.6,90.13 L444.0,92.24 L444.4,94.47 L444.8,96.82 L445.2,99.26 L445.6,101.79 L446.0,104.38 L446.4,107.02 L446.8,109.70 L447.2,112.40 L447.6,115.10 L448.0,117.78 L448.4,120.43 L448.8,123.02 L449.2,125.54 L449.6,127.95 L450.0,130.23 L450.4,132.35 L450.8,134.29 L451.2,136.03 L451.6,137.59 L452.0,138.98 L452.4,140.22 L452.8,141.35 L453.2,142.40 L453.6,143.03 L454.0,142.02 L454.4,140.95 L454.8,139.79 L455.2,138.51 L455.6,137.07 L456.0,135.47 L456.4,133.68 L456.8,131.70 L457.2,129.56 L457.6,127.28 L458.0,124.88 L458.4,122.39 L458.8,119.83 L459.2,117.23 L459.6,114.61 L460.0,111.98 L460.4,109.36 L460.8,106.76 L461.2,104.20 L461.6,101.69 L462.0,99.25 L462.4,96.89 L462.8,94.62 L463.2,92.46 L463.6,90.42 L464.0,88.51 L464.4,86.74 L464.8,85.11 L465.2,83.64 L465.6,82.32 L466.0,81.18 L466.4,80.20 L466.8,79.40 L467.2,78.78 L467.6,78.47 L468.0,78.42 L468.4,78.51 L468.8,78.45 L469.2,78.44 L469.6,78.51 L470.0,78.42 L470.4,78.90 L470.8,79.54 L471.2,80.36 L471.6,81.34 L472.0,82.48 L472.4,83.78 L472.8,85.22 L473.2,86.80 L473.6,88.51 L474.0,90.34 L474.4,92.29 L474.8,94.34 L475.2,96.48 L475.6,98.71 L476.0,101.00 L476.4,103.36 L476.8,105.76 L477.2,108.19 L477.6,110.65 L478.0,113.11 L478.4,115.57 L478.8,118.01 L479.2,120.43 L479.6,122.80 L480.0,125.10 L480.4,127.33 L480.8,129.45 L481.2,131.45 L481.6,133.30 L482.0,135.01 L482.4,136.55 L482.8,137.95 L483.2,139.20 L483.6,140.33 L484.0,141.37 L484.4,142.34 L484.8,143.25 L485.2,142.78 L485.6,141.84 L486.0,140.85 L486.4,139.77 L486.8,138.58 L487.2,137.26 L487.6,135.80 L488.0,134.18 L488.4,132.41 L488.8,130.49 L489.2,128.44 L489.6,126.28 L490.0,124.04 L490.4,121.72 L490.8,119.35 L491.2,116.95 L491.6,114.52 L492.0,112.09 L492.4,109.65 L492.8,107.24 L493.2,104.85 L493.6,102.50 L494.0,100.20 L494.4,97.96 L494.8,95.79 L495.2,93.71 L495.6,91.72 L496.0,89.84 L496.4,88.07 L496.8,86.42 L497.2,84.90 L497.6,83.52 L498.0,82.27 L498.4,81.18 L498.8,80.25 L499.2,79.47 L499.6,78.85 L500.0,78.42 L500.4,78.50 L500.8,78.46 L501.2,78.46 L501.6,78.51 L502.0,78.41 L502.4,78.51 L502.8,78.74 L503.2,79.34 L503.6,80.10 L504.0,81.03 L504.4,82.12 L504.8,83.37 L505.2,84.77 L505.6,86.32 L506.0,88.01 L506.4,89.83 L506.8,91.78 L507.2,93.85 L507.6,96.01 L508.0,98.27 L508.4,100.62 L508.8,103.03 L509.2,105.50 L509.6,108.01 L510.0,110.55 L510.4,113.10 L510.8,115.66 L511.2,118.20 L511.6,120.72 L512.0,123.18 L512.4,125.59 L512.8,127.90 L513.2,130.10 L513.6,132.16 L514.0,134.06 L514.4,135.80 L514.8,137.36 L515.2,138.76 L515.6,140.02 L516.0,141.16 L516.4,142.21 L516.8,143.20 L517.2,143.27 L517.6,142.30 L518.0,141.26 L518.4,140.14 L518.8,138.89 L519.2,137.51 L519.6,135.97 L520.0,134.26 L520.4,132.38 L520.8,130.34 L521.2,128.16 L521.6,125.88 L522.0,123.50 L522.4,121.05 L522.8,118.56 L523.2,116.04 L523.6,113.51 L524.0,110.98 L524.4,108.46 L524.8,105.97 L525.2,103.52 L525.6,101.13 L526.0,98.80 L526.4,96.55 L526.8,94.39 L527.2,92.34 L527.6,90.39 L528.0,88.57 L528.4,86.87 L528.8,85.31 L529.2,83.90 L529.6,82.63 L530.0,81.52 L530.4,80.56 L530.8,79.77 L531.2,79.14 L531.6,78.67 L532.0,78.76 L532.4,78.65 L532.8,78.74 L533.2,78.68 L533.6,78.71 L534.0,78.71 L534.4,78.86 L534.8,79.40 L535.2,80.09 L535.6,80.93 L536.0,81.92 L536.4,83.05 L536.8,84.32 L537.2,85.73 L537.6,87.26 L538.0,88.91 L538.4,90.67 L538.8,92.53 L539.2,94.49 L539.6,96.54 L540.0,98.66 L540.4,100.85 L540.8,103.10 L541.2,105.40 L541.6,107.73 L542.0,110.09 L542.4,112.47 L542.8,114.85 L543.2,117.22 L543.6,119.58 L544.0,121.91 L544.4,124.19 L544.8,126.41 L545.2,128.55 L545.6,130.59 L546.0,132.52 L546.4,134.30 L546.8,135.94 L547.2,137.43 L547.6,138.78 L548.0,140.00 L548.4,141.11 L548.8,142.13 L549.2,143.08 L549.6,143.98 L550.0,143.08 L550.4,142.12 L550.8,141.08 L551.2,139.95 L551.6,138.70 L552.0,137.31 L552.4,135.75 L552.8,134.03 L553.2,132.15 L553.6,130.12 L554.0,127.96 L554.4,125.69 L554.8,123.33 L555.2,120.91 L555.6,118.44 L556.0,115.94 L556.4,113.43 L556.8,110.91 L557.2,108.40 L557.6,105.93 L558.0,103.49 L558.4,101.10 L558.8,98.78 L559.2,96.54 L559.6,94.39 L560.0,92.33 L560.4,90.39 L560.8,88.57 L561.2,86.88 L561.6,85.33 L562.0,83.93 L562.4,82.67 L562.8,81.58 L563.2,80.64 L563.6,79.87 L564.0,79.27 L564.4,78.93 L564.8,78.92 L565.2,78.98 L565.6,78.88 L566.0,78.98 L566.4,78.92 L566.8,78.93 L567.2,79.27 L567.6,79.88 L568.0,80.65 L568.4,81.59 L568.8,82.69 L569.2,83.94 L569.6,85.34 L570.0,86.89 L570.4,88.58 L570.8,90.39 L571.2,92.32 L571.6,94.36 L572.0,96.50 L572.4,98.73 L572.8,101.03 L573.2,103.40 L573.6,105.81 L574.0,108.27 L574.4,110.75 L574.8,113.24 L575.2,115.73 L575.6,118.21 L576.0,120.65 L576.4,123.05 L576.8,125.39 L577.2,127.65 L577.6,129.80 L578.0,131.83 L578.4,133.72 L578.8,135.46 L579.2,137.03 L579.6,138.45 L580.0,139.72 L580.4,140.87 L580.8,141.92 L581.2,142.89 L581.6,143.80 L582.0,143.85 L582.4,142.95 L582.8,142.00 L583.2,140.98 L583.6,139.87 L584.0,138.64 L584.4,137.29 L584.8,135.79 L585.2,134.14 L585.6,132.36 L586.0,130.45 L586.4,128.43 L586.8,126.32 L587.2,124.14 L587.6,121.90 L588.0,119.63 L588.4,117.33 L588.8,115.02 L589.2,112.70 L589.6,110.40 L590.0,108.12 L590.4,105.87 L590.8,103.66 L591.2,101.50 L591.6,99.39 L592.0,97.36 L592.4,95.40 L592.8,93.52 L593.2,91.74 L593.6,90.05 L594.0,88.46 L594.4,86.98 L594.8,85.62 L595.2,84.37 L595.6,83.24 L596.0,82.24 L596.4,81.36 L596.8,80.60 L597.2,79.97 L597.6,79.47 L598.0,79.15 L598.4,79.24 L598.8,79.14 L599.2,79.20 L599.6,79.20 L600.0,79.13 L600.4,79.22 L600.8,79.19 L601.2,79.42 L601.6,79.89 L602.0,80.47 L602.4,81.15 L602.8,81.95 L603.2,82.84 L603.6,83.84 L604.0,84.93 L604.4,86.11 L604.8,87.38 L605.2,88.73 L605.6,90.15 L606.0,91.65 L606.4,93.22 L606.8,94.85 L607.2,96.54 L607.6,98.28 L608.0,100.06 L608.4,101.88 L608.8,103.74 L609.2,105.63 L609.6,107.54 L610.0,109.46 L610.4,111.40 L610.8,113.34 L611.2,115.29 L611.6,117.22 L612.0,119.15 L612.4,121.05 L612.8,122.93 L613.2,124.78 L613.6,126.58 L614.0,128.33 L614.4,130.02 L614.8,131.64 L615.2,133.18 L615.6,134.63 L616.0,135.98 L616.4,137.23 L616.8,138.39 L617.2,139.45 L617.6,140.43 L618.0,141.34 L618.4,142.18 L618.8,142.98 L619.2,143.73 L619.6,144.45 L620.0,144.11 L620.4,143.38 L620.8,142.61 L621.2,141.80 L621.6,140.92 L622.0,139.97 L622.4,138.95 L622.8,137.83 L623.2,136.61 L623.6,135.29 L624.0,133.87 L624.4,132.36 L624.8,130.76 L625.2,129.08 L625.6,127.33 L626.0,125.53 L626.4,123.68 L626.8,121.80 L627.2,119.89 L627.6,117.96 L628.0,116.02 L628.4,114.07 L628.8,112.12 L629.2,110.18 L629.6,108.25 L630.0,106.34 L630.4,104.46 L630.8,102.60 L631.2,100.79 L631.6,99.01 L632.0,97.28 L632.4,95.61 L632.8,93.99 L633.2,92.44 L633.6,90.96 L634.0,89.54 L634.4,88.21 L634.8,86.95 L635.2,85.77 L635.6,84.68 L636.0,83.69 L636.4,82.78 L636.8,81.97 L637.2,81.25 L637.6,80.63 L638.0,80.11 L638.4,79.69 L638.8,79.48 L639.2,79.54 L639.6,79.47 L640.0,79.43 L640.4,79.50 L640.8,79.52 L641.2,79.46 L641.6,79.44 L642.0,79.51 L642.4,79.88 L642.8,80.35 L643.2,80.92 L643.6,81.58 L644.0,82.34 L644.4,83.19 L644.8,84.13 L645.2,85.16 L645.6,86.27 L646.0,87.46 L646.4,88.73 L646.8,90.08 L647.2,91.50 L647.6,92.99 L648.0,94.54 L648.4,96.14 L648.8,97.80 L649.2,99.52 L649.6,101.27 L650.0,103.06 L650.4,104.89 L650.8,106.75 L651.2,108.63 L651.6,110.53 L652.0,112.44 L652.4,114.35 L652.8,116.27 L653.2,118.18 L653.6,120.08 L654.0,121.96 L654.4,123.81 L654.8,125.64 L655.2,127.41 L655.6,129.14 L656.0,130.81 L656.4,132.40 L656.8,133.91 L657.2,135.33 L657.6,136.65 L658.0,137.88 L658.4,139.01 L658.8,140.05 L659.2,141.01 L659.6,141.90 L660.0,142.73 L660.4,143.51 L660.8,144.26 L661.2,144.97 L661.6,144.26 L662.0,143.52 L662.4,142.73 L662.8,141.89 L663.2,140.98 L663.6,140.00 L664.0,138.93 L664.4,137.76 L664.8,136.48 L665.2,135.10 L665.6,133.61 L666.0,132.02 L666.4,130.34 L666.8,128.59 L667.2,126.76 L667.6,124.88 L668.0,122.95 L668.4,120.99 L668.8,119.00 L669.2,117.00 L669.6,114.98 L670.0,112.97 L670.4,110.95 L670.8,108.95 L671.2,106.97 L671.6,105.01 L672.0,103.09 L672.4,101.20 L672.8,99.36 L673.2,97.57 L673.6,95.84 L674.0,94.17 L674.4,92.57 L674.8,91.04 L675.2,89.60 L675.6,88.23 L676.0,86.96 L676.4,85.77 L676.8,84.68 L677.2,83.68 L677.6,82.78 L678.0,81.99 L678.4,81.29 L678.8,80.70 L679.2,80.21 L679.6,79.83 L680.0,79.76 L680.4,79.75 L680.8,79.82 L681.2,79.80 L681.6,79.73 L682.0,79.77 L682.4,79.84 L682.8,79.78 L683.2,79.99 L683.6,80.41 L684.0,80.93 L684.4,81.55 L684.8,82.27 L685.2,83.07 L685.6,83.97 L686.0,84.95 L686.4,86.03 L686.8,87.18 L687.2,88.41 L687.6,89.72 L688.0,91.10 L688.4,92.54 L688.8,94.05 L689.2,95.62 L689.6,97.25 L690.0,98.92 L690.4,100.64 L690.8,102.40 L691.2,104.19 L691.6,106.01 L692.0,107.86 L692.4,109.72 L692.8,111.60 L693.2,113.49 L693.6,115.37 L694.0,117.26 L694.4,119.13 L694.8,120.99 L695.2,122.83 L695.6,124.64 L696.0,126.41 L696.4,128.14 L696.8,129.82 L697.2,131.43 L697.6,132.97 L698.0,134.43 L698.4,135.80 L698.8,137.08 L699.2,138.27 L699.6,139.36 L700.0,140.37 L700.4,141.30 L700.8,142.16 L701.2,142.97 L701.6,143.73 L702.0,144.45 L702.4,145.14 L702.8,144.84 L703.2,144.14 L703.6,143.41 L704.0,142.64 L704.4,141.82 L704.8,140.93 L705.2,139.98 L705.6,138.94 L706.0,137.82 L706.4,136.61 L706.8,135.30 L707.2,133.91 L707.6,132.44 L708.0,130.89 L708.4,129.27 L708.8,127.60 L709.2,125.88 L709.6,124.12 L710.0,122.33 L710.4,120.51 L710.8,118.68 L711.2,116.83 L711.6,114.98 L712.0,113.13 L712.4,111.28 L712.8,109.44 L713.2,107.62 L713.6,105.81 L714.0,104.03 L714.4,102.28 L714.8,100.57 L715.2,98.89 L715.6,97.26 L716.0,95.68 L716.4,94.15 L716.8,92.68 L717.2,91.26 L717.6,89.92 L718.0,88.64 L718.4,87.44 L718.8,86.31 L719.2,85.26 L719.6,84.29 L720.0,83.40 L720.4,82.61 L720.8,81.90 L721.2,81.28 L721.6,80.76 L722.0,80.33 L722.4,80.01 L722.8,80.06 L723.2,80.12 L723.6,80.06 L724.0,80.00 L724.4,80.06 L724.8,80.12 L725.2,80.05 L725.6,80.02 L726.0,80.37 L726.4,80.82 L726.8,81.37 L727.2,82.02 L727.6,82.78 L728.0,83.63 L728.4,84.58 L728.8,85.63 L729.2,86.76 L729.6,87.99 L730.0,89.31 L730.4,90.71 L730.8,92.18 L731.2,93.74 L731.6,95.36 L732.0,97.04 L732.4,98.79 L732.8,100.58 L733.2,102.43 L733.6,104.31 L734.0,106.23 L734.4,108.18 L734.8,110.14 L735.2,112.13 L735.6,114.11 L736.0,116.10 L736.4,118.09 L736.8,120.06 L737.2,122.00 L737.6,123.92 L738.0,125.80 L738.4,127.63 L738.8,129.41 L739.2,131.11 L739.6,132.73 L740.0,134.27 L740.4,135.71 L740.8,137.05 L741.2,138.28 L741.6,139.41 L742.0,140.45 L742.4,141.40 L742.8,142.28 L743.2,143.10 L743.6,143.86 L744.0,144.59 L744.4,145.28 L744.8,144.99 L745.2,144.30 L745.6,143.57 L746.0,142.81 L746.4,142.00 L746.8,141.14 L747.2,140.21 L747.6,139.20 L748.0,138.12 L748.4,136.95 L748.8,135.70 L749.2,134.36 L749.6,132.95 L750.0,131.47 L750.4,129.93 L750.8,128.34 L751.2,126.70 L751.6,125.02 L752.0,123.31 L752.4,121.58 L752.8,119.84 L753.2,118.08 L753.6,116.31 L754.0,114.55 L754.4,112.78 L754.8,111.02 L755.2,109.28 L755.6,107.54 L756.0,105.83 L756.4,104.14 L756.8,102.48 L757.2,100.85 L757.6,99.26 L758.0,97.71 L758.4,96.19 L758.8,94.73 L759.2,93.32 L759.6,91.95 L760.0,90.65 L760.4,89.41 L760.8,88.23 L761.2,87.11 L761.6,86.06 L762.0,85.09 L762.4,84.19 L762.8,83.36 L763.2,82.61 L763.6,81.94 L764.0,81.35 L764.4,80.84 L764.8,80.42 L765.2,80.08 L765.6,80.03 L766.0,80.01 L766.4,80.05 L766.8,80.10 L767.2,80.10 L767.6,80.05 L768.0,80.00 L768.4,80.05 L768.8,80.10 L769.2,80.45 L769.6,80.90 L770.0,81.43 L770.4,82.05 L770.8,82.76 L771.2,83.55 L771.6,84.43 L772.0,85.39 L772.4,86.44 L772.8,87.56 L773.2,88.77 L773.6,90.04 L774.0,91.38 L774.4,92.79 L774.8,94.27 L775.2,95.80 L775.6,97.39 L776.0,99.02 L776.4,100.71 L776.8,102.43 L777.2,104.19 L777.6,105.98 L778.0,107.80 L778.4,109.63 L778.8,111.48 L779.2,113.34 L779.6,115.20 L780.0,117.06 L780.4,118.92 L780.8,120.76 L781.2,122.58 L781.6,124.37 L782.0,126.14 L782.4,127.85 L782.8,129.52 L783.2,131.13 L783.6,132.67 L784.0,134.13 L784.4,135.51 L784.8,136.79 L785.2,137.99 L785.6,139.10 L786.0,140.12 L786.4,141.06 L786.8,141.92 L787.2,142.73 L787.6,143.49 L788.0,144.21 L788.4,144.89 L788.8,145.40 L789.2,144.75 L789.6,144.06 L790.0,143.34 L790.4,142.58 L790.8,141.77 L791.2,140.91 L791.6,139.97 L792.0,138.96 L792.4,137.87 L792.8,136.69 L793.2,135.43 L793.6,134.09 L794.0,132.67 L794.4,131.18 L794.8,129.63 L795.2,128.02 L795.6,126.37 L796.0,124.68 L796.4,122.96 L796.8,121.21 L797.2,119.45 L797.6,117.68 L798.0,115.90 L798.4,114.11 L798.8,112.33 L799.2,110.56 L799.6,108.80 L800.0,107.05 L800.4,105.33 L800.8,103.63 L801.2,101.96 L801.6,100.32 L802.0,98.72 L802.4,97.16 L802.8,95.65 L803.2,94.19 L803.6,92.78 L804.0,91.43 L804.4,90.14 L804.8,88.92 L805.2,87.75 L805.6,86.66 L806.0,85.64 L806.4,84.69 L806.8,83.82 L807.2,83.02 L807.6,82.31 L808.0,81.67 L808.4,81.12 L808.8,80.65 L809.2,80.27 L809.6,80.04 L810.0,80.08 L810.4,80.12 L810.8,80.08 L811.2,80.03 L811.6,80.01 L812.0,80.05 L812.4,80.09 L812.8,80.11 L813.2,80.19 L813.6,80.55 L814.0,81.00 L814.4,81.54 L814.8,82.16 L815.2,82.86 L815.6,83.64 L816.0,84.50 L816.4,85.43 L816.8,86.44 L817.2,87.53 L817.6,88.68 L818.0,89.90 L818.4,91.19 L818.8,92.54 L819.2,93.94 L819.6,95.40 L820.0,96.91 L820.4,98.47 L820.8,100.07 L821.2,101.71 L821.6,103.38 L822.0,105.09 L822.4,106.82 L822.8,108.57 L823.2,110.33 L823.6,112.11 L824.0,113.90 L824.4,115.69 L824.8,117.47 L825.2,119.25 L825.6,121.02 L826.0,122.76 L826.4,124.49 L826.8,126.18 L827.2,127.83 L827.6,129.44 L828.0,131.00 L828.4,132.49 L828.8,133.91 L829.2,135.26 L829.6,136.52 L830.0,137.70 L830.4,138.80 L830.8,139.81 L831.2,140.75 L831.6,141.62 L832.0,142.43 L832.4,143.19 L832.8,143.91 L833.2,144.59 L833.6,145.24 L834.0,145.08 L834.4,144.41 L834.8,143.72 L835.2,142.99 L835.6,142.22 L836.0,141.39 L836.4,140.50 L836.8,139.54 L837.2,138.49 L837.6,137.36 L838.0,136.15 L838.4,134.85 L838.8,133.47 L839.2,132.01 L839.6,130.49 L840.0,128.90 L840.4,127.26 L840.8,125.58 L841.2,123.86 L841.6,122.12 L842.0,120.35 L842.4,118.56 L842.8,116.76 L843.2,114.96 L843.6,113.16 L844.0,111.37 L844.4,109.58 L844.8,107.81 L845.2,106.05 L845.6,104.33 L846.0,102.63 L846.4,100.96 L846.8,99.33 L847.2,97.75 L847.6,96.21 L848.0,94.72 L848.4,93.28 L848.8,91.91 L849.2,90.59 L849.6,89.33 L850.0,88.15 L850.4,87.03 L850.8,85.98 L851.2,85.01 L851.6,84.12 L852.0,83.30 L852.4,82.56 L852.8,81.90 L853.2,81.32 L853.6,80.83 L854.0,80.41 L854.4,80.08 L854.8,80.04 L855.2,80.01 L855.6,80.03 L856.0,80.07 L856.4,80.10 L856.8,80.10 L857.2,80.07 L857.6,80.03 L858.0,80.00 L858.4,80.30 L858.8,80.69 L859.2,81.15 L859.6,81.69 L860.0,82.30 L860.4,82.99 L860.8,83.76 L861.2,84.60 L861.6,85.50 L862.0,86.48 L862.4,87.52 L862.8,88.63 L863.2,89.80 L863.6,91.02 L864.0,92.31 L864.4,93.64 L864.8,95.02 L865.2,96.45 L865.6,97.92 L866.0,99.43 L866.4,100.98 L866.8,102.56 L867.2,104.16 L867.6,105.79 L868.0,107.44 L868.4,109.10 L868.8,110.78 L869.2,112.47 L869.6,114.15 L870.0,115.84 L870.4,117.53 L870.8,119.20 L871.2,120.86 L871.6,122.51 L872.0,124.13 L872.4,125.73 L872.8,127.29 L873.2,128.82 L873.6,130.30 L874.0,131.72 L874.4,133.09 L874.8,134.39 L875.2,135.62 L875.6,136.78 L876.0,137.87 L876.4,138.88 L876.8,139.82 L877.2,140.69 L877.6,141.50 L878.0,142.26 L878.4,142.97 L878.8,143.65 L879.2,144.30 L879.6,144.93 L880.0,145.46 L880.4,144.86 L880.8,144.24 L881.2,143.59 L881.6,142.90 L882.0,142.16 L882.4,141.38 L882.8,140.54 L883.2,139.64 L883.6,138.66 L884.0,137.62 L884.4,136.49 L884.8,135.29 L885.2,135.36 L885.6,135.45 L886.0,135.51 L886.4,135.56 L886.4,143.03 L886.0,144.08 L885.6,145.06 L885.2,145.98 L884.8,146.83 L884.4,147.61 L884.0,148.32 L883.6,148.96 L883.2,149.52 L882.8,150.00 L882.4,150.42 L882.0,150.75 L881.6,150.78 L881.2,150.81 L880.8,150.84 L880.4,150.87 L880.0,150.90 L879.6,150.88 L879.2,150.86 L878.8,150.83 L878.4,150.81 L878.0,150.79 L877.6,150.47 L877.2,150.07 L876.8,149.61 L876.4,149.07 L876.0,148.47 L875.6,147.79 L875.2,147.04 L874.8,146.22 L874.4,145.33 L874.0,144.38 L873.6,143.37 L873.2,142.29 L872.8,141.15 L872.4,139.95 L872.0,138.70 L871.6,137.40 L871.2,136.04 L870.8,134.64 L870.4,133.19 L870.0,131.70 L869.6,130.18 L869.2,128.62 L868.8,127.03 L868.4,125.41 L868.0,123.77 L867.6,122.10 L867.2,120.43 L866.8,118.74 L866.4,117.04 L866.0,115.34 L865.6,113.64 L865.2,111.94 L864.8,110.25 L864.4,108.58 L864.0,106.92 L863.6,105.29 L863.2,103.70 L862.8,102.14 L862.4,100.62 L862.0,99.16 L861.6,97.75 L861.2,96.41 L860.8,95.15 L860.4,93.96 L860.0,92.85 L859.6,91.81 L859.2,90.85 L858.8,89.96 L858.4,89.13 L858.0,88.35 L857.6,87.62 L857.2,86.93 L856.8,86.27 L856.4,85.64 L856.0,85.81 L855.6,86.46 L855.2,87.13 L854.8,87.84 L854.4,88.59 L854.0,89.40 L853.6,90.26 L853.2,91.19 L852.8,92.20 L852.4,93.29 L852.0,94.47 L851.6,95.73 L851.2,97.07 L850.8,98.48 L850.4,99.97 L850.0,101.52 L849.6,103.13 L849.2,104.78 L848.8,106.47 L848.4,108.20 L848.0,109.95 L847.6,111.72 L847.2,113.50 L846.8,115.29 L846.4,117.09 L846.0,118.88 L845.6,120.67 L845.2,122.45 L844.8,124.21 L844.4,125.95 L844.0,127.66 L843.6,129.34 L843.2,130.99 L842.8,132.60 L842.4,134.17 L842.0,135.68 L841.6,137.15 L841.2,138.56 L840.8,139.91 L840.4,141.19 L840.0,142.42 L839.6,143.57 L839.2,144.65 L838.8,145.65 L838.4,146.58 L838.0,147.43 L837.6,148.20 L837.2,148.88 L836.8,149.49 L836.4,150.01 L836.0,150.44 L835.6,150.79 L835.2,150.83 L834.8,150.88 L834.4,150.88 L834.0,150.84 L833.6,150.79 L833.2,150.81 L832.8,150.85 L832.4,150.89 L832.0,150.87 L831.6,150.54 L831.2,150.13 L830.8,149.64 L830.4,149.06 L830.0,148.40 L829.6,147.66 L829.2,146.84 L828.8,145.95 L828.4,144.97 L828.0,143.92 L827.6,142.80 L827.2,141.62 L826.8,140.36 L826.4,139.04 L826.0,137.67 L825.6,136.23 L825.2,134.75 L824.8,133.21 L824.4,131.63 L824.0,130.01 L823.6,128.36 L823.2,126.67 L822.8,124.95 L822.4,123.21 L822.0,121.45 L821.6,119.68 L821.2,117.90 L820.8,116.11 L820.4,114.32 L820.0,112.54 L819.6,110.77 L819.2,109.01 L818.8,107.27 L818.4,105.56 L818.0,103.89 L817.6,102.26 L817.2,100.67 L816.8,99.15 L816.4,97.69 L816.0,96.31 L815.6,95.00 L815.2,93.78 L814.8,92.64 L814.4,91.58 L814.0,90.61 L813.6,89.71 L813.2,88.87 L812.8,88.08 L812.4,87.35 L812.0,86.65 L811.6,85.98 L811.2,85.50 L810.8,86.14 L810.4,86.82 L810.0,87.52 L809.6,88.27 L809.2,89.06 L808.8,89.91 L808.4,90.83 L808.0,91.82 L807.6,92.89 L807.2,94.04 L806.8,95.28 L806.4,96.59 L806.0,97.99 L805.6,99.45 L805.2,100.98 L804.8,102.57 L804.4,104.20 L804.0,105.87 L803.6,107.57 L803.2,109.31 L802.8,111.06 L802.4,112.82 L802.0,114.60 L801.6,116.37 L801.2,118.15 L800.8,119.93 L800.4,121.69 L800.0,123.44 L799.6,125.17 L799.2,126.88 L798.8,128.56 L798.4,130.21 L798.0,131.82 L797.6,133.39 L797.2,134.92 L796.8,136.40 L796.4,137.83 L796.0,139.20 L795.6,140.51 L795.2,141.76 L794.8,142.94 L794.4,144.06 L794.0,145.10 L793.6,146.07 L793.2,146.96 L792.8,147.78 L792.4,148.51 L792.0,149.16 L791.6,149.73 L791.2,150.21 L790.8,150.61 L790.4,150.88 L790.0,150.83 L789.6,150.78 L789.2,150.82 L788.8,150.86 L788.4,150.89 L788.0,150.84 L787.6,150.79 L787.2,150.82 L786.8,150.68 L786.4,150.29 L786.0,149.82 L785.6,149.25 L785.2,148.60 L784.8,147.86 L784.4,147.03 L784.0,146.12 L783.6,145.12 L783.2,144.05 L782.8,142.89 L782.4,141.67 L782.0,140.36 L781.6,139.00 L781.2,137.56 L780.8,136.06 L780.4,134.51 L780.0,132.90 L779.6,131.25 L779.2,129.55 L778.8,127.81 L778.4,126.04 L778.0,124.24 L777.6,122.42 L777.2,120.58 L776.8,118.72 L776.4,116.86 L776.0,115.00 L775.6,113.14 L775.2,111.29 L774.8,109.46 L774.4,107.64 L774.0,105.86 L773.6,104.11 L773.2,102.41 L772.8,100.77 L772.4,99.19 L772.0,97.67 L771.6,96.24 L771.2,94.90 L770.8,93.65 L770.4,92.48 L770.0,91.41 L769.6,90.42 L769.2,89.51 L768.8,88.67 L768.4,87.88 L768.0,87.13 L767.6,86.43 L767.2,85.76 L766.8,85.73 L766.4,86.40 L766.0,87.09 L765.6,87.82 L765.2,88.59 L764.8,89.41 L764.4,90.29 L764.0,91.24 L763.6,92.27 L763.2,93.37 L762.8,94.56 L762.4,95.83 L762.0,97.18 L761.6,98.60 L761.2,100.08 L760.8,101.62 L760.4,103.22 L760.0,104.85 L759.6,106.52 L759.2,108.22 L758.8,109.94 L758.4,111.68 L758.0,113.43 L757.6,115.19 L757.2,116.95 L756.8,118.70 L756.4,120.45 L756.0,122.20 L755.6,123.92 L755.2,125.63 L754.8,127.31 L754.4,128.97 L754.0,130.59 L753.6,132.18 L753.2,133.73 L752.8,135.24 L752.4,136.70 L752.0,138.11 L751.6,139.46 L751.2,140.76 L750.8,141.99 L750.4,143.16 L750.0,144.27 L749.6,145.30 L749.2,146.26 L748.8,147.14 L748.4,147.94 L748.0,148.67 L747.6,149.31 L747.2,149.86 L746.8,150.33 L746.4,150.71 L746.0,150.79 L745.6,150.82 L745.2,150.87 L744.8,150.88 L744.4,150.83 L744.0,150.79 L743.6,150.85 L743.2,150.89 L742.8,150.83 L742.4,150.47 L742.0,150.01 L741.6,149.45 L741.2,148.80 L740.8,148.05 L740.4,147.20 L740.0,146.25 L739.6,145.21 L739.2,144.08 L738.8,142.86 L738.4,141.56 L738.0,140.17 L737.6,138.70 L737.2,137.16 L736.8,135.55 L736.4,133.87 L736.0,132.14 L735.6,130.35 L735.2,128.51 L734.8,126.63 L734.4,124.71 L734.0,122.77 L733.6,120.80 L733.2,118.82 L732.8,116.82 L732.4,114.83 L732.0,112.84 L731.6,110.86 L731.2,108.90 L730.8,106.97 L730.4,105.08 L730.0,103.23 L729.6,101.45 L729.2,99.73 L728.8,98.09 L728.4,96.54 L728.0,95.09 L727.6,93.75 L727.2,92.50 L726.8,91.36 L726.4,90.32 L726.0,89.36 L725.6,88.48 L725.2,87.66 L724.8,86.88 L724.4,86.15 L724.0,85.45 L723.6,86.12 L723.2,86.84 L722.8,87.59 L722.4,88.40 L722.0,89.25 L721.6,90.17 L721.2,91.17 L720.8,92.25 L720.4,93.42 L720.0,94.68 L719.6,96.03 L719.2,97.47 L718.8,98.99 L718.4,100.58 L718.0,102.24 L717.6,103.94 L717.2,105.69 L716.8,107.48 L716.4,109.29 L716.0,111.13 L715.6,112.97 L715.2,114.83 L714.8,116.69 L714.4,118.54 L714.0,120.39 L713.6,122.22 L713.2,124.04 L712.8,125.83 L712.4,127.59 L712.0,129.32 L711.6,131.01 L711.2,132.66 L710.8,134.27 L710.4,135.82 L710.0,137.32 L709.6,138.75 L709.2,140.13 L708.8,141.43 L708.4,142.67 L708.0,143.83 L707.6,144.91 L707.2,145.92 L706.8,146.84 L706.4,147.68 L706.0,148.43 L705.6,149.10 L705.2,149.67 L704.8,150.15 L704.4,150.54 L704.0,150.66 L703.6,150.66 L703.2,150.72 L702.8,150.74 L702.4,150.68 L702.0,150.64 L701.6,150.70 L701.2,150.75 L700.8,150.70 L700.4,150.34 L700.0,149.90 L699.6,149.36 L699.2,148.72 L698.8,148.00 L698.4,147.19 L698.0,146.29 L697.6,145.31 L697.2,144.24 L696.8,143.09 L696.4,141.87 L696.0,140.57 L695.6,139.20 L695.2,137.76 L694.8,136.26 L694.4,134.70 L694.0,133.08 L693.6,131.42 L693.2,129.70 L692.8,127.95 L692.4,126.16 L692.0,124.34 L691.6,122.49 L691.2,120.63 L690.8,118.74 L690.4,116.85 L690.0,114.96 L689.6,113.06 L689.2,111.17 L688.8,109.30 L688.4,107.44 L688.0,105.62 L687.6,103.83 L687.2,102.08 L686.8,100.39 L686.4,98.76 L686.0,97.21 L685.6,95.74 L685.2,94.36 L684.8,93.08 L684.4,91.89 L684.0,90.80 L683.6,89.79 L683.2,88.86 L682.8,87.99 L682.4,87.18 L682.0,86.42 L681.6,85.69 L681.2,85.33 L680.8,86.05 L680.4,86.80 L680.0,87.59 L679.6,88.44 L679.2,89.36 L678.8,90.35 L678.4,91.44 L678.0,92.63 L677.6,93.92 L677.2,95.32 L676.8,96.82 L676.4,98.42 L676.0,100.11 L675.6,101.88 L675.2,103.71 L674.8,105.59 L674.4,107.52 L674.0,109.49 L673.6,111.48 L673.2,113.48 L672.8,115.49 L672.4,117.51 L672.0,119.52 L671.6,121.52 L671.2,123.50 L670.8,125.45 L670.4,127.37 L670.0,129.25 L669.6,131.09 L669.2,132.87 L668.8,134.59 L668.4,136.25 L668.0,137.84 L667.6,139.36 L667.2,140.79 L666.8,142.14 L666.4,143.41 L666.0,144.58 L665.6,145.66 L665.2,146.64 L664.8,147.52 L664.4,148.30 L664.0,148.97 L663.6,149.55 L663.2,150.01 L662.8,150.38 L662.4,150.38 L662.0,150.31 L661.6,150.35 L661.2,150.41 L660.8,150.35 L660.4,150.30 L660.0,150.37 L659.6,150.39 L659.2,150.04 L658.8,149.58 L658.4,149.02 L658.0,148.37 L657.6,147.62 L657.2,146.78 L656.8,145.85 L656.4,144.82 L656.0,143.72 L655.6,142.52 L655.2,141.25 L654.8,139.91 L654.4,138.49 L654.0,137.00 L653.6,135.46 L653.2,133.85 L652.8,132.19 L652.4,130.48 L652.0,128.72 L651.6,126.93 L651.2,125.10 L650.8,123.25 L650.4,121.37 L650.0,119.47 L649.6,117.57 L649.2,115.65 L648.8,113.74 L648.4,111.83 L648.0,109.94 L647.6,108.06 L647.2,106.21 L646.8,104.39 L646.4,102.62 L646.0,100.89 L645.6,99.23 L645.2,97.64 L644.8,96.13 L644.4,94.70 L644.0,93.38 L643.6,92.14 L643.2,91.01 L642.8,89.96 L642.4,89.00 L642.0,88.10 L641.6,87.27 L641.2,86.49 L640.8,85.75 L640.4,85.04 L640.0,85.37 L639.6,86.09 L639.2,86.85 L638.8,87.66 L638.4,88.52 L638.0,89.45 L637.6,90.46 L637.2,91.56 L636.8,92.76 L636.4,94.05 L636.0,95.45 L635.6,96.94 L635.2,98.52 L634.8,100.17 L634.4,101.90 L634.0,103.68 L633.6,105.51 L633.2,107.38 L632.8,109.28 L632.4,111.20 L632.0,113.14 L631.6,115.08 L631.2,117.03 L630.8,118.97 L630.4,120.90 L630.0,122.81 L629.6,124.70 L629.2,126.56 L628.8,128.39 L628.4,130.18 L628.0,131.92 L627.6,133.60 L627.2,135.24 L626.8,136.81 L626.4,138.31 L626.0,139.74 L625.6,141.10 L625.2,142.38 L624.8,143.57 L624.4,144.68 L624.0,145.70 L623.6,146.62 L623.2,147.45 L622.8,148.18 L622.4,148.82 L622.0,149.35 L621.6,149.78 L621.2,150.02 L620.8,149.95 L620.4,150.01 L620.0,150.06 L619.6,149.99 L619.2,149.97 L618.8,150.04 L618.4,150.04 L618.0,149.97 L617.6,149.59 L617.2,149.10 L616.8,148.52 L616.4,147.84 L616.0,147.07 L615.6,146.20 L615.2,145.24 L614.8,144.20 L614.4,143.06 L614.0,141.84 L613.6,140.55 L613.2,139.17 L612.8,137.73 L612.4,136.21 L612.0,134.63 L611.6,132.99 L611.2,131.29 L610.8,129.54 L610.4,127.75 L610.0,125.91 L609.6,124.04 L609.2,122.14 L608.8,120.22 L608.4,118.27 L608.0,116.31 L607.6,114.35 L607.2,112.38 L606.8,110.42 L606.4,108.46 L606.0,106.53 L605.6,104.63 L605.2,102.76 L604.8,100.95 L604.4,99.19 L604.0,97.50 L603.6,95.90 L603.2,94.39 L602.8,92.99 L602.4,91.68 L602.0,90.48 L601.6,89.38 L601.2,88.37 L600.8,87.44 L600.4,86.56 L600.0,85.74 L599.6,84.95 L599.2,84.98 L598.8,85.78 L598.4,86.63 L598.0,87.53 L597.6,88.51 L597.2,89.59 L596.8,90.77 L596.4,92.08 L596.0,93.52 L595.6,95.09 L595.2,96.79 L594.8,98.61 L594.4,100.53 L594.0,102.55 L593.6,104.64 L593.2,106.80 L592.8,109.00 L592.4,111.24 L592.0,113.50 L591.6,115.78 L591.2,118.06 L590.8,120.33 L590.4,122.59 L590.0,124.82 L589.6,127.01 L589.2,129.15 L588.8,131.24 L588.4,133.25 L588.0,135.19 L587.6,137.05 L587.2,138.81 L586.8,140.46 L586.4,142.01 L586.0,143.44 L585.6,144.74 L585.2,145.91 L584.8,146.95 L584.4,147.85 L584.0,148.61 L583.6,149.22 L583.2,149.68 L582.8,149.71 L582.4,149.69 L582.0,149.70 L581.6,149.70 L581.2,149.68 L580.8,149.72 L580.4,149.66 L580.0,149.18 L579.6,148.54 L579.2,147.74 L578.8,146.79 L578.4,145.69 L578.0,144.44 L577.6,143.05 L577.2,141.52 L576.8,139.85 L576.4,138.05 L576.0,136.14 L575.6,134.12 L575.2,132.00 L574.8,129.78 L574.4,127.49 L574.0,125.13 L573.6,122.72 L573.2,120.26 L572.8,117.77 L572.4,115.27 L572.0,112.76 L571.6,110.26 L571.2,107.79 L570.8,105.36 L570.4,102.99 L570.0,100.70 L569.6,98.52 L569.2,96.46 L568.8,94.55 L568.4,92.80 L568.0,91.22 L567.6,89.80 L567.2,88.52 L566.8,87.37 L566.4,86.31 L566.0,85.33 L565.6,84.40 L565.2,85.30 L564.8,86.28 L564.4,87.34 L564.0,88.49 L563.6,89.76 L563.2,91.18 L562.8,92.76 L562.4,94.51 L562.0,96.43 L561.6,98.49 L561.2,100.68 L560.8,102.98 L560.4,105.35 L560.0,107.80 L559.6,110.28 L559.2,112.79 L558.8,115.31 L558.4,117.83 L558.0,120.34 L557.6,122.81 L557.2,125.24 L556.8,127.61 L556.4,129.92 L556.0,132.14 L555.6,134.27 L555.2,136.30 L554.8,138.22 L554.4,140.01 L554.0,141.67 L553.6,143.20 L553.2,144.57 L552.8,145.80 L552.4,146.87 L552.0,147.79 L551.6,148.54 L551.2,149.13 L550.8,149.42 L550.4,149.46 L550.0,149.38 L549.6,149.49 L549.2,149.38 L548.8,149.46 L548.4,149.41 L548.0,149.15 L547.6,148.58 L547.2,147.85 L546.8,146.98 L546.4,145.95 L546.0,144.79 L545.6,143.49 L545.2,142.06 L544.8,140.50 L544.4,138.83 L544.0,137.04 L543.6,135.16 L543.2,133.18 L542.8,131.11 L542.4,128.98 L542.0,126.77 L541.6,124.51 L541.2,122.21 L540.8,119.87 L540.4,117.50 L540.0,115.12 L539.6,112.74 L539.2,110.37 L538.8,108.01 L538.4,105.69 L538.0,103.42 L537.6,101.21 L537.2,99.09 L536.8,97.07 L536.4,95.18 L536.0,93.42 L535.6,91.82 L535.2,90.36 L534.8,89.04 L534.4,87.85 L534.0,86.77 L533.6,85.76 L533.2,84.82 L532.8,84.37 L532.4,85.29 L532.0,86.27 L531.6,87.33 L531.2,88.49 L530.8,89.77 L530.4,91.20 L530.0,92.80 L529.6,94.56 L529.2,96.48 L528.8,98.55 L528.4,100.74 L528.0,103.03 L527.6,105.41 L527.2,107.84 L526.8,110.32 L526.4,112.83 L526.0,115.35 L525.6,117.87 L525.2,120.37 L524.8,122.85 L524.4,125.28 L524.0,127.66 L523.6,129.97 L523.2,132.20 L522.8,134.34 L522.4,136.38 L522.0,138.30 L521.6,140.10 L521.2,141.76 L520.8,143.28 L520.4,144.65 L520.0,145.86 L519.6,146.91 L519.2,147.80 L518.8,148.51 L518.4,149.05 L518.0,149.22 L517.6,149.12 L517.2,149.16 L516.8,149.19 L516.4,149.10 L516.0,149.19 L515.6,149.03 L515.2,148.47 L514.8,147.73 L514.4,146.83 L514.0,145.76 L513.6,144.52 L513.2,143.13 L512.8,141.59 L512.4,139.90 L512.0,138.08 L511.6,136.13 L511.2,134.07 L510.8,131.90 L510.4,129.64 L510.0,127.30 L509.6,124.89 L509.2,122.43 L508.8,119.92 L508.4,117.39 L508.0,114.84 L507.6,112.29 L507.2,109.76 L506.8,107.25 L506.4,104.80 L506.0,102.40 L505.6,100.10 L505.2,97.90 L504.8,95.84 L504.4,93.93 L504.0,92.18 L503.6,90.61 L503.2,89.19 L502.8,87.92 L502.4,86.78 L502.0,85.72 L501.6,84.74 L501.2,84.02 L500.8,84.94 L500.4,85.93 L500.0,86.99 L499.6,88.14 L499.2,89.41 L498.8,90.83 L498.4,92.40 L498.0,94.13 L497.6,96.01 L497.2,98.03 L496.8,100.17 L496.4,102.41 L496.0,104.73 L495.6,107.10 L495.2,109.51 L494.8,111.94 L494.4,114.38 L494.0,116.83 L493.6,119.25 L493.2,121.65 L492.8,124.02 L492.4,126.33 L492.0,128.58 L491.6,130.77 L491.2,132.87 L490.8,134.88 L490.4,136.78 L490.0,138.58 L489.6,140.26 L489.2,141.82 L488.8,143.24 L488.4,144.52 L488.0,145.67 L487.6,146.66 L487.2,147.50 L486.8,148.19 L486.4,148.72 L486.0,148.88 L485.6,148.90 L485.2,148.90 L484.8,148.87 L484.4,148.93 L484.0,148.84 L483.6,148.95 L483.2,148.50 L482.8,147.89 L482.4,147.12 L482.0,146.20 L481.6,145.12 L481.2,143.90 L480.8,142.53 L480.4,141.03 L480.0,139.40 L479.6,137.64 L479.2,135.76 L478.8,133.78 L478.4,131.70 L478.0,129.52 L477.6,127.27 L477.2,124.95 L476.8,122.58 L476.4,120.16 L476.0,117.70 L475.6,115.23 L475.2,112.75 L474.8,110.27 L474.4,107.81 L474.0,105.38 L473.6,103.01 L473.2,100.71 L472.8,98.50 L472.4,96.41 L472.0,94.46 L471.6,92.67 L471.2,91.04 L470.8,89.57 L470.4,88.25 L470.0,87.07 L469.6,85.98 L469.2,84.97 L468.8,84.02 L468.4,84.75 L468.0,85.75 L467.6,86.83 L467.2,88.01 L466.8,89.32 L466.4,90.79 L466.0,92.43 L465.6,94.25 L465.2,96.24 L464.8,98.39 L464.4,100.68 L464.0,103.07 L463.6,105.54 L463.2,108.08 L462.8,110.66 L462.4,113.27 L462.0,115.88 L461.6,118.49 L461.2,121.08 L460.8,123.63 L460.4,126.13 L460.0,128.56 L459.6,130.92 L459.2,133.17 L458.8,135.33 L458.4,137.36 L458.0,139.26 L457.6,141.01 L457.2,142.62 L456.8,144.06 L456.4,145.34 L456.0,146.44 L455.6,147.35 L455.2,148.09 L454.8,148.63 L454.4,148.66 L454.0,148.73 L453.6,148.65 L453.2,148.64 L452.8,148.72 L452.4,148.68 L452.0,148.31 L451.6,147.64 L451.2,146.78 L450.8,145.73 L450.4,144.50 L450.0,143.09 L449.6,141.51 L449.2,139.77 L448.8,137.88 L448.4,135.84 L448.0,133.67 L447.6,131.38 L447.2,128.99 L446.8,126.51 L446.4,123.95 L446.0,121.33 L445.6,118.66 L445.2,115.97 L444.8,113.26 L444.4,110.56 L444.0,107.88 L443.6,105.25 L443.2,102.68 L442.8,100.20 L442.4,97.85 L442.0,95.64 L441.6,93.61 L441.2,91.77 L440.8,90.12 L440.4,88.65 L440.0,87.35 L439.6,86.16 L439.2,85.07 L438.8,84.05 L438.4,84.81 L438.0,85.89 L437.6,87.05 L437.2,88.33 L436.8,89.76 L436.4,91.37 L436.0,93.17 L435.6,95.17 L435.2,97.35 L434.8,99.70 L434.4,102.17 L434.0,104.74 L433.6,107.39 L433.2,110.09 L432.8,112.82 L432.4,115.55 L432.0,118.29 L431.6,120.99 L431.2,123.66 L430.8,126.27 L430.4,128.80 L430.0,131.24 L429.6,133.57 L429.2,135.79 L428.8,137.87 L428.4,139.80 L428.0,141.57 L427.6,143.18 L427.2,144.60 L426.8,145.84 L426.4,146.88 L426.0,147.73 L425.6,148.37 L425.2,148.59 L424.8,148.54 L424.4,148.61 L424.0,148.65 L423.6,148.59 L423.2,148.54 L422.8,148.31 L422.4,147.64 L422.0,146.77 L421.6,145.69 L421.2,144.42 L420.8,142.95 L420.4,141.31 L420.0,139.49 L419.6,137.50 L419.2,135.37 L418.8,133.09 L418.4,130.69 L418.0,128.18 L417.6,125.58 L417.2,122.90 L416.8,120.17 L416.4,117.39 L416.0,114.58 L415.6,111.78 L415.2,108.99 L414.8,106.23 L414.4,103.54 L414.0,100.93 L413.6,98.45 L413.2,96.11 L412.8,93.96 L412.4,92.02 L412.0,90.28 L411.6,88.74 L411.2,87.37 L410.8,86.13 L410.4,85.00 L410.0,83.95 L409.6,85.01 L409.2,86.15 L408.8,87.38 L408.4,88.76 L408.0,90.32 L407.6,92.07 L407.2,94.04 L406.8,96.22 L406.4,98.59 L406.0,101.11 L405.6,103.76 L405.2,106.50 L404.8,109.30 L404.4,112.14 L404.0,115.00 L403.6,117.86 L403.2,120.69 L402.8,123.47 L402.4,126.20 L402.0,128.84 L401.6,131.38 L401.2,133.81 L400.8,136.10 L400.4,138.24 L400.0,140.22 L399.6,142.02 L399.2,143.63 L398.8,145.05 L398.4,146.26 L398.0,147.25 L397.6,148.03 L397.2,148.58 L396.8,148.53 L396.4,148.49 L396.0,148.48 L395.6,148.52 L395.2,148.57 L394.8,148.34 L394.4,147.68 L394.0,146.79 L393.6,145.68 L393.2,144.35 L392.8,142.82 L392.4,141.08 L392.0,139.16 L391.6,137.06 L391.2,134.80 L390.8,132.39 L390.4,129.85 L390.0,127.19 L389.6,124.44 L389.2,121.61 L388.8,118.73 L388.4,115.81 L388.0,112.88 L387.6,109.95 L387.2,107.06 L386.8,104.22 L386.4,101.47 L386.0,98.85 L385.6,96.39 L385.2,94.12 L384.8,92.07 L384.4,90.25 L384.0,88.65 L383.6,87.23 L383.2,85.96 L382.8,84.78 L382.4,84.23 L382.0,85.37 L381.6,86.59 L381.2,87.94 L380.8,89.46 L380.4,91.18 L380.0,93.13 L379.6,95.32 L379.2,97.72 L378.8,100.31 L378.4,103.04 L378.0,105.89 L377.6,108.80 L377.2,111.77 L376.8,114.75 L376.4,117.74 L376.0,120.69 L375.6,123.60 L375.2,126.44 L374.8,129.19 L374.4,131.83 L374.0,134.33 L373.6,136.69 L373.2,138.87 L372.8,140.87 L372.4,142.68 L372.0,144.27 L371.6,145.64 L371.2,146.78 L370.8,147.69 L370.4,148.35 L370.0,148.45 L369.6,148.48 L369.2,148.51 L368.8,148.50 L368.4,148.48 L368.0,148.32 L367.6,147.64 L367.2,146.71 L366.8,145.54 L366.4,144.14 L366.0,142.51 L365.6,140.66 L365.2,138.61 L364.8,136.36 L364.4,133.94 L364.0,131.37 L363.6,128.65 L363.2,125.82 L362.8,122.90 L362.4,119.90 L362.0,116.85 L361.6,113.78 L361.2,110.71 L360.8,107.66 L360.4,104.68 L360.0,101.78 L359.6,99.01 L359.2,96.42 L358.8,94.04 L358.4,91.91 L358.0,90.03 L357.6,88.38 L357.2,86.92 L356.8,85.61 L356.4,84.41 L356.0,84.71 L355.6,85.95 L355.2,87.30 L354.8,88.82 L354.4,90.55 L354.0,92.54 L353.6,94.78 L353.2,97.28 L352.8,99.99 L352.4,102.88 L352.0,105.89 L351.6,108.99 L351.2,112.14 L350.8,115.31 L350.4,118.48 L350.0,121.61 L349.6,124.68 L349.2,127.66 L348.8,130.53 L348.4,133.26 L348.0,135.83 L347.6,138.22 L347.2,140.40 L346.8,142.36 L346.4,144.08 L346.0,145.56 L345.6,146.77 L345.2,147.71 L344.8,148.38 L344.4,148.38 L344.0,148.37 L343.6,148.37 L343.2,148.37 L342.8,148.37 L342.4,147.94 L342.0,147.07 L341.6,145.94 L341.2,144.53 L340.8,142.87 L340.4,140.96 L340.0,138.82 L339.6,136.46 L339.2,133.92 L338.8,131.19 L338.4,128.32 L338.0,125.33 L337.6,122.23 L337.2,119.07 L336.8,115.86 L336.4,112.64 L336.0,109.43 L335.6,106.27 L335.2,103.19 L334.8,100.23 L334.4,97.45 L334.0,94.89 L333.6,92.58 L333.2,90.55 L332.8,88.78 L332.4,87.23 L332.0,85.85 L331.6,84.59 L331.2,84.58 L330.8,85.84 L330.4,87.21 L330.0,88.75 L329.6,90.51 L329.2,92.52 L328.8,94.79 L328.4,97.32 L328.0,100.07 L327.6,102.98 L327.2,106.02 L326.8,109.13 L326.4,112.29 L326.0,115.47 L325.6,118.63 L325.2,121.76 L324.8,124.82 L324.4,127.78 L324.0,130.63 L323.6,133.34 L323.2,135.88 L322.8,138.24 L322.4,140.40 L322.0,142.34 L321.6,144.04 L321.2,145.50 L320.8,146.70 L320.4,147.63 L320.0,148.30 L319.6,148.29 L319.2,148.29 L318.8,148.28 L318.4,148.28 L318.0,148.27 L317.6,147.93 L317.2,147.10 L316.8,146.00 L316.4,144.64 L316.0,143.02 L315.6,141.16 L315.2,139.06 L314.8,136.76 L314.4,134.25 L314.0,131.57 L313.6,128.74 L313.2,125.77 L312.8,122.70 L312.4,119.56 L312.0,116.36 L311.6,113.13 L311.2,109.91 L310.8,106.73 L310.4,103.62 L310.0,100.62 L309.6,97.79 L309.2,95.17 L308.8,92.81 L308.4,90.72 L308.0,88.90 L307.6,87.31 L307.2,85.90 L306.8,84.60 L306.4,84.63 L306.0,85.94 L305.6,87.39 L305.2,89.02 L304.8,90.90 L304.4,93.08 L304.0,95.55 L303.6,98.31 L303.2,101.30 L302.8,104.46 L302.4,107.74 L302.0,111.10 L301.6,114.48 L301.2,117.87 L300.8,121.22 L300.4,124.49 L300.0,127.66 L299.6,130.69 L299.2,133.56 L298.8,136.23 L298.4,138.69 L298.0,140.91 L297.6,142.88 L297.2,144.57 L296.8,145.98 L296.4,147.11 L296.0,147.94 L295.6,148.25 L295.2,148.26 L294.8,148.26 L294.4,148.26 L294.0,148.26 L293.6,148.14 L293.2,147.42 L292.8,146.44 L292.4,145.21 L292.0,143.73 L291.6,142.02 L291.2,140.08 L290.8,137.95 L290.4,135.63 L290.0,133.14 L289.6,130.50 L289.2,127.74 L288.8,124.87 L288.4,121.91 L288.0,118.90 L287.6,115.84 L287.2,112.78 L286.8,109.72 L286.4,106.69 L286.0,103.74 L285.6,100.88 L285.2,98.17 L284.8,95.64 L284.4,93.33 L284.0,91.27 L283.6,89.45 L283.2,87.86 L282.8,86.45 L282.4,85.16 L282.0,84.00 L281.6,85.21 L281.2,86.52 L280.8,87.97 L280.4,89.63 L280.0,91.53 L279.6,93.71 L279.2,96.17 L278.8,98.87 L278.4,101.78 L278.0,104.84 L277.6,108.01 L277.2,111.24 L276.8,114.50 L276.4,117.76 L276.0,120.98 L275.6,124.14 L275.2,127.21 L274.8,130.15 L274.4,132.95 L274.0,135.58 L273.6,138.01 L273.2,140.22 L272.8,142.21 L272.4,143.94 L272.0,145.42 L271.6,146.62 L271.2,147.55 L270.8,148.21 L270.4,148.21 L270.0,148.20 L269.6,148.20 L269.2,148.19 L268.8,148.18 L268.4,147.78 L268.0,146.96 L267.6,145.88 L267.2,144.55 L266.8,142.99 L266.4,141.20 L266.0,139.20 L265.6,137.01 L265.2,134.63 L264.8,132.10 L264.4,129.42 L264.0,126.62 L263.6,123.73 L263.2,120.75 L262.8,117.72 L262.4,114.65 L262.0,111.58 L261.6,108.52 L261.2,105.51 L260.8,102.57 L260.4,99.75 L260.0,97.08 L259.6,94.62 L259.2,92.40 L258.8,90.43 L258.4,88.70 L258.0,87.18 L257.6,85.82 L257.2,84.56 L256.8,84.61 L256.4,85.90 L256.0,87.31 L255.6,88.90 L255.2,90.74 L254.8,92.86 L254.4,95.27 L254.0,97.97 L253.6,100.90 L253.2,104.01 L252.8,107.25 L252.4,110.57 L252.0,113.93 L251.6,117.29 L251.2,120.63 L250.8,123.90 L250.4,127.07 L250.0,130.12 L249.6,133.01 L249.2,135.71 L248.8,138.20 L248.4,140.46 L248.0,142.47 L247.6,144.20 L247.2,145.66 L246.8,146.83 L246.4,147.71 L246.0,148.09 L245.6,148.08 L245.2,148.07 L244.8,148.07 L244.4,148.07 L244.0,148.07 L243.6,147.36 L243.2,146.39 L242.8,145.14 L242.4,143.65 L242.0,141.90 L241.6,139.92 L241.2,137.73 L240.8,135.35 L240.4,132.78 L240.0,130.06 L239.6,127.21 L239.2,124.25 L238.8,121.20 L238.4,118.10 L238.0,114.96 L237.6,111.82 L237.2,108.70 L236.8,105.62 L236.4,102.63 L236.0,99.77 L235.6,97.08 L235.2,94.60 L234.8,92.36 L234.4,90.39 L234.0,88.67 L233.6,87.16 L233.2,85.80 L232.8,84.56 L232.4,84.57 L232.0,85.81 L231.6,87.17 L231.2,88.69 L230.8,90.43 L230.4,92.41 L230.0,94.67 L229.6,97.17 L229.2,99.89 L228.8,102.78 L228.4,105.80 L228.0,108.90 L227.6,112.05 L227.2,115.21 L226.8,118.36 L226.4,121.48 L226.0,124.53 L225.6,127.49 L225.2,130.33 L224.8,133.04 L224.4,135.58 L224.0,137.94 L223.6,140.10 L223.2,142.04 L222.8,143.74 L222.4,145.20 L222.0,146.41 L221.6,147.35 L221.2,148.03 L220.8,148.02 L220.4,148.01 L220.0,148.01 L219.6,148.02 L219.2,148.03 L218.8,147.73 L218.4,146.93 L218.0,145.87 L217.6,144.55 L217.2,142.99 L216.8,141.20 L216.4,139.18 L216.0,136.96 L215.6,134.55 L215.2,131.97 L214.8,129.24 L214.4,126.38 L214.0,123.41 L213.6,120.36 L213.2,117.26 L212.8,114.12 L212.4,110.97 L212.0,107.84 L211.6,104.77 L211.2,101.79 L210.8,98.93 L210.4,96.26 L210.0,93.82 L209.6,91.63 L209.2,89.71 L208.8,88.04 L208.4,86.56 L208.0,85.22 L207.6,84.01 L207.2,85.27 L206.8,86.65 L206.4,88.18 L206.0,89.94 L205.6,91.98 L205.2,94.33 L204.8,96.97 L204.4,99.88 L204.0,103.00 L203.6,106.26 L203.2,109.62 L202.8,113.04 L202.4,116.47 L202.0,119.88 L201.6,123.24 L201.2,126.50 L200.8,129.63 L200.4,132.61 L200.0,135.40 L199.6,137.97 L199.2,140.30 L198.8,142.36 L198.4,144.15 L198.0,145.64 L197.6,146.82 L197.2,147.69 L196.8,148.02 L196.4,148.05 L196.0,148.08 L195.6,148.05 L195.2,148.03 L194.8,147.71 L194.4,146.86 L194.0,145.72 L193.6,144.28 L193.2,142.57 L192.8,140.59 L192.4,138.37 L192.0,135.92 L191.6,133.27 L191.2,130.43 L190.8,127.43 L190.4,124.31 L190.0,121.09 L189.6,117.80 L189.2,114.46 L188.8,111.12 L188.4,107.80 L188.0,104.54 L187.6,101.39 L187.2,98.40 L186.8,95.63 L186.4,93.12 L186.0,90.91 L185.6,88.98 L185.2,87.32 L184.8,85.83 L184.4,84.48 L184.0,84.85 L183.6,86.26 L183.2,87.82 L182.8,89.61 L182.4,91.70 L182.0,94.12 L181.6,96.88 L181.2,99.91 L180.8,103.17 L180.4,106.59 L180.0,110.10 L179.6,113.67 L179.2,117.24 L178.8,120.78 L178.4,124.24 L178.0,127.58 L177.6,130.78 L177.2,133.79 L176.8,136.58 L176.4,139.12 L176.0,141.39 L175.6,143.36 L175.2,145.03 L174.8,146.37 L174.4,147.38 L174.0,147.98 L173.6,147.94 L173.2,147.90 L172.8,147.91 L172.4,147.95 L172.0,147.78 L171.6,146.97 L171.2,145.85 L170.8,144.42 L170.4,142.71 L170.0,140.72 L169.6,138.48 L169.2,136.00 L168.8,133.31 L168.4,130.43 L168.0,127.40 L167.6,124.24 L167.2,120.98 L166.8,117.64 L166.4,114.27 L166.0,110.90 L165.6,107.56 L165.2,104.28 L164.8,101.12 L164.4,98.12 L164.0,95.36 L163.6,92.87 L163.2,90.68 L162.8,88.78 L162.4,87.13 L162.0,85.66 L161.6,84.32 L161.2,85.01 L160.8,86.43 L160.4,88.01 L160.0,89.83 L159.6,91.94 L159.2,94.39 L158.8,97.15 L158.4,100.18 L158.0,103.42 L157.6,106.81 L157.2,110.30 L156.8,113.82 L156.4,117.35 L156.0,120.84 L155.6,124.25 L155.2,127.55 L154.8,130.71 L154.4,133.68 L154.0,136.44 L153.6,138.96 L153.2,141.22 L152.8,143.18 L152.4,144.85 L152.0,146.20 L151.6,147.23 L151.2,147.94 L150.8,147.94 L150.4,147.91 L150.0,147.88 L149.6,147.84 L149.2,147.82 L148.8,147.06 L148.4,146.00 L148.0,144.64 L147.6,142.99 L147.2,141.07 L146.8,138.91 L146.4,136.50 L146.0,133.89 L145.6,131.09 L145.2,128.12 L144.8,125.02 L144.4,121.82 L144.0,118.53 L143.6,115.20 L143.2,111.84 L142.8,108.51 L142.4,105.22 L142.0,102.03 L141.6,98.99 L141.2,96.15 L140.8,93.57 L140.4,91.28 L140.0,89.29 L139.6,87.56 L139.2,86.04 L138.8,84.65 L138.4,84.71 L138.0,86.13 L137.6,87.71 L137.2,89.53 L136.8,91.66 L136.4,94.15 L136.0,96.98 L135.6,100.11 L135.2,103.48 L134.8,107.01 L134.4,110.64 L134.0,114.31 L133.6,117.99 L133.2,121.61 L132.8,125.15 L132.4,128.55 L132.0,131.78 L131.6,134.80 L131.2,137.57 L130.8,140.06 L130.4,142.26 L130.0,144.13 L129.6,145.66 L129.2,146.85 L128.8,147.69 L128.4,147.79 L128.0,147.81 L127.6,147.86 L127.2,147.89 L126.8,147.88 L126.4,147.17 L126.0,146.14 L125.6,144.80 L125.2,143.17 L124.8,141.26 L124.4,139.09 L124.0,136.68 L123.6,134.05 L123.2,131.23 L122.8,128.25 L122.4,125.12 L122.0,121.89 L121.6,118.58 L121.2,115.22 L120.8,111.84 L120.4,108.47 L120.0,105.16 L119.6,101.95 L119.2,98.88 L118.8,96.02 L118.4,93.43 L118.0,91.14 L117.6,89.15 L117.2,87.42 L116.8,85.89 L116.4,84.50 L116.0,84.90 L115.6,86.37 L115.2,88.01 L114.8,89.91 L114.4,92.14 L114.0,94.74 L113.6,97.69 L113.2,100.94 L112.8,104.42 L112.4,108.04 L112.0,111.75 L111.6,115.50 L111.2,119.22 L110.8,122.89 L110.4,126.44 L110.0,129.84 L109.6,133.04 L109.2,136.01 L108.8,138.71 L108.4,141.11 L108.0,143.19 L107.6,144.92 L107.2,146.30 L106.8,147.32 L106.4,147.72 L106.0,147.79 L105.6,147.85 L105.2,147.79 L104.8,147.74 L104.4,147.36 L104.0,146.40 L103.6,145.11 L103.2,143.51 L102.8,141.60 L102.4,139.42 L102.0,136.97 L101.6,134.29 L101.2,131.40 L100.8,128.33 L100.4,125.12 L100.0,121.78 L99.6,118.37 L99.2,114.91 L98.8,111.43 L98.4,107.98 L98.0,104.59 L97.6,101.31 L97.2,98.21 L96.8,95.34 L96.4,92.77 L96.0,90.52 L95.6,88.58 L95.2,86.89 L94.8,85.39 L94.4,84.05 L94.0,85.45 L93.6,86.99 L93.2,88.74 L92.8,90.78 L92.4,93.17 L92.0,95.93 L91.6,99.03 L91.2,102.38 L90.8,105.93 L90.4,109.60 L90.0,113.32 L89.6,117.05 L89.2,120.75 L88.8,124.36 L88.4,127.84 L88.0,131.15 L87.6,134.25 L87.2,137.09 L86.8,139.66 L86.4,141.93 L86.0,143.86 L85.6,145.45 L85.2,146.68 L84.8,147.55 L84.4,147.69 L84.0,147.69 L83.6,147.75 L83.2,147.78 L82.8,147.73 L82.4,146.98 L82.0,145.88 L81.6,144.45 L81.2,142.70 L80.8,140.66 L80.4,138.33 L80.0,135.74 L79.6,132.93 L79.2,129.92 L78.8,126.74 L78.4,123.43 L78.0,120.03 L77.6,116.57 L77.2,113.08 L76.8,109.61 L76.4,106.19 L76.0,102.88 L75.6,99.71 L75.2,96.76 L74.8,94.09 L74.4,91.72 L74.0,89.67 L73.6,87.91 L73.2,86.35 L72.8,84.94 L72.4,84.37 L72.0,85.73 L71.6,87.22 L71.2,88.91 L70.8,90.88 L70.4,93.16 L70.0,95.77 L69.6,98.66 L69.2,101.80 L68.8,104.04 L68.4,104.03 L68.0,104.03 Z" fill="#fff"/>
<g stroke="#000" stroke-width="2.8" stroke-linecap="round">
<line x1="68.2" y1="68.2" x2="68.2" y2="159"/>
<line x1="705.3" y1="68.2" x2="705.3" y2="159"/>
<line x1="887.6" y1="68.2" x2="887.6" y2="159"/>
</g>
</svg>
<div class="t" id="t1" style="left:329.4px;top:29.8px;letter-spacing:0.27px;">Visible light</div>
<div class="t" id="t2" style="left:767.3px;top:31px;letter-spacing:0.62px;">Infrared</div>
<div class="t" id="t3" style="left:100.2px;top:385.3px;letter-spacing:0.68px;">415 nm</div>
<div class="t" id="t4" style="left:579px;top:562.6px;letter-spacing:0.64px;">633 nm</div>
<div class="t" id="t5" style="left:770.6px;top:699.7px;letter-spacing:0.7px;">830 nm</div>
<div class="t" id="t6" style="left:897.8px;top:409.6px;">Epidermis</div>
<div class="t" id="t7" style="left:894.6px;top:552px;letter-spacing:0.3px;">Dermis</div>
<div class="t" id="t8" style="left:893.1px;top:665px;">Subcutaneous</div>
<div class="t" id="t8b" style="left:894.6px;top:688.8px;">tissue</div>
<div class="t" id="t9" style="left:891.8px;top:759.7px;">Muscle</div>
</body></html>
